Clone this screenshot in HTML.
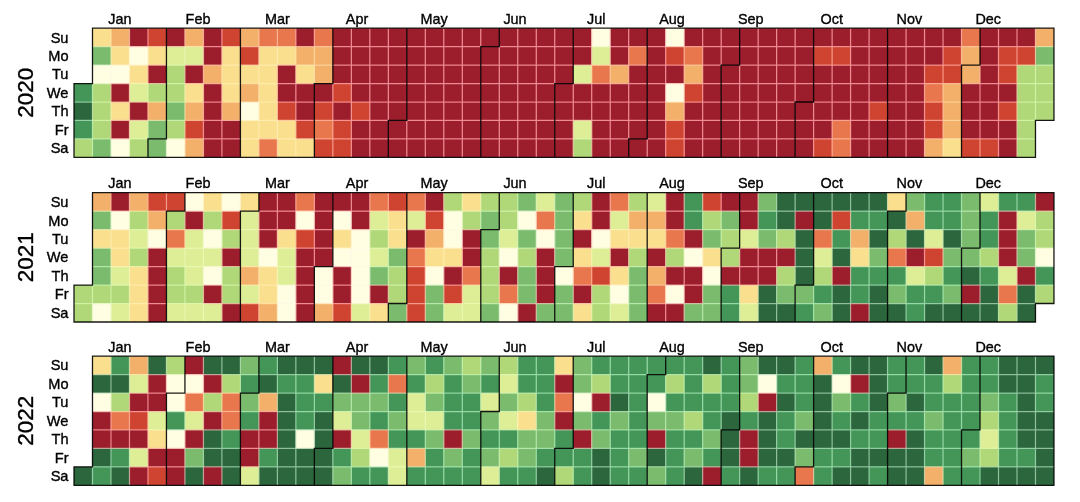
<!DOCTYPE html><html><head><meta charset="utf-8"><title>calendar heatmap</title><style>
html,body{margin:0;padding:0;background:#fff;}body{width:1080px;height:502px;overflow:hidden;}
svg{display:block;will-change:transform;}text{font-family:"Liberation Sans",sans-serif;fill:#000;stroke:#000;stroke-width:0.35px;}
.m{font-size:14.4px;text-anchor:middle;}.d{font-size:14.6px;text-anchor:end;}.y{font-size:22.5px;text-anchor:middle;}
</style></head><body>
<svg width="1080" height="502" viewBox="0 0 1080 502">
<rect width="1080" height="502" fill="#fff"/>
<g>
<rect x="74" y="83.55" width="18.49" height="18.45" fill="#449658"/>
<rect x="74" y="102" width="18.49" height="18.45" fill="#2b663c"/>
<rect x="74" y="120.45" width="18.49" height="18.45" fill="#449658"/>
<rect x="74" y="138.9" width="18.49" height="18.45" fill="#b0d878"/>
<rect x="92.49" y="28.2" width="18.49" height="18.45" fill="#fadf8f"/>
<rect x="92.49" y="46.65" width="18.49" height="18.45" fill="#7bbb6d"/>
<rect x="92.49" y="65.1" width="18.49" height="18.45" fill="#fffde2"/>
<rect x="92.49" y="83.55" width="18.49" height="18.45" fill="#b0d878"/>
<rect x="92.49" y="102" width="18.49" height="18.45" fill="#b0d878"/>
<rect x="92.49" y="120.45" width="18.49" height="18.45" fill="#b0d878"/>
<rect x="92.49" y="138.9" width="18.49" height="18.45" fill="#7bbb6d"/>
<rect x="110.98" y="28.2" width="18.49" height="18.45" fill="#f2b06a"/>
<rect x="110.98" y="46.65" width="18.49" height="18.45" fill="#fadf8f"/>
<rect x="110.98" y="65.1" width="18.49" height="18.45" fill="#fffde2"/>
<rect x="110.98" y="83.55" width="18.49" height="18.45" fill="#9c1e2c"/>
<rect x="110.98" y="102" width="18.49" height="18.45" fill="#fadf8f"/>
<rect x="110.98" y="120.45" width="18.49" height="18.45" fill="#9c1e2c"/>
<rect x="110.98" y="138.9" width="18.49" height="18.45" fill="#fffde2"/>
<rect x="129.47" y="28.2" width="18.49" height="18.45" fill="#9c1e2c"/>
<rect x="129.47" y="46.65" width="18.49" height="18.45" fill="#fffde2"/>
<rect x="129.47" y="65.1" width="18.49" height="18.45" fill="#fadf8f"/>
<rect x="129.47" y="83.55" width="18.49" height="18.45" fill="#ddee97"/>
<rect x="129.47" y="102" width="18.49" height="18.45" fill="#9c1e2c"/>
<rect x="129.47" y="120.45" width="18.49" height="18.45" fill="#ddee97"/>
<rect x="129.47" y="138.9" width="18.49" height="18.45" fill="#b0d878"/>
<rect x="147.96" y="28.2" width="18.49" height="18.45" fill="#cf4431"/>
<rect x="147.96" y="46.65" width="18.49" height="18.45" fill="#fadf8f"/>
<rect x="147.96" y="65.1" width="18.49" height="18.45" fill="#9c1e2c"/>
<rect x="147.96" y="83.55" width="18.49" height="18.45" fill="#b0d878"/>
<rect x="147.96" y="102" width="18.49" height="18.45" fill="#f2b06a"/>
<rect x="147.96" y="120.45" width="18.49" height="18.45" fill="#7bbb6d"/>
<rect x="147.96" y="138.9" width="18.49" height="18.45" fill="#7bbb6d"/>
<rect x="166.45" y="28.2" width="18.49" height="18.45" fill="#9c1e2c"/>
<rect x="166.45" y="46.65" width="18.49" height="18.45" fill="#ddee97"/>
<rect x="166.45" y="65.1" width="18.49" height="18.45" fill="#b0d878"/>
<rect x="166.45" y="83.55" width="18.49" height="18.45" fill="#b0d878"/>
<rect x="166.45" y="102" width="18.49" height="18.45" fill="#7bbb6d"/>
<rect x="166.45" y="120.45" width="18.49" height="18.45" fill="#b0d878"/>
<rect x="166.45" y="138.9" width="18.49" height="18.45" fill="#fffde2"/>
<rect x="184.94" y="28.2" width="18.49" height="18.45" fill="#f2b06a"/>
<rect x="184.94" y="46.65" width="18.49" height="18.45" fill="#ddee97"/>
<rect x="184.94" y="65.1" width="18.49" height="18.45" fill="#9c1e2c"/>
<rect x="184.94" y="83.55" width="18.49" height="18.45" fill="#fadf8f"/>
<rect x="184.94" y="102" width="18.49" height="18.45" fill="#f2b06a"/>
<rect x="184.94" y="120.45" width="18.49" height="18.45" fill="#cf4431"/>
<rect x="184.94" y="138.9" width="18.49" height="18.45" fill="#f2b06a"/>
<rect x="203.43" y="28.2" width="18.49" height="18.45" fill="#9c1e2c"/>
<rect x="203.43" y="46.65" width="18.49" height="18.45" fill="#9c1e2c"/>
<rect x="203.43" y="65.1" width="18.49" height="18.45" fill="#f2b06a"/>
<rect x="203.43" y="83.55" width="18.49" height="18.45" fill="#9c1e2c"/>
<rect x="203.43" y="102" width="18.49" height="18.45" fill="#9c1e2c"/>
<rect x="203.43" y="120.45" width="18.49" height="18.45" fill="#9c1e2c"/>
<rect x="203.43" y="138.9" width="18.49" height="18.45" fill="#9c1e2c"/>
<rect x="221.92" y="28.2" width="18.49" height="18.45" fill="#cf4431"/>
<rect x="221.92" y="46.65" width="18.49" height="18.45" fill="#fadf8f"/>
<rect x="221.92" y="65.1" width="18.49" height="18.45" fill="#fadf8f"/>
<rect x="221.92" y="83.55" width="18.49" height="18.45" fill="#fadf8f"/>
<rect x="221.92" y="102" width="18.49" height="18.45" fill="#f2b06a"/>
<rect x="221.92" y="120.45" width="18.49" height="18.45" fill="#9c1e2c"/>
<rect x="221.92" y="138.9" width="18.49" height="18.45" fill="#9c1e2c"/>
<rect x="240.41" y="28.2" width="18.49" height="18.45" fill="#f2b06a"/>
<rect x="240.41" y="46.65" width="18.49" height="18.45" fill="#cf4431"/>
<rect x="240.41" y="65.1" width="18.49" height="18.45" fill="#fadf8f"/>
<rect x="240.41" y="83.55" width="18.49" height="18.45" fill="#f2b06a"/>
<rect x="240.41" y="102" width="18.49" height="18.45" fill="#fffde2"/>
<rect x="240.41" y="120.45" width="18.49" height="18.45" fill="#fadf8f"/>
<rect x="240.41" y="138.9" width="18.49" height="18.45" fill="#fadf8f"/>
<rect x="258.9" y="28.2" width="18.49" height="18.45" fill="#e9774d"/>
<rect x="258.9" y="46.65" width="18.49" height="18.45" fill="#fadf8f"/>
<rect x="258.9" y="65.1" width="18.49" height="18.45" fill="#fadf8f"/>
<rect x="258.9" y="83.55" width="18.49" height="18.45" fill="#fadf8f"/>
<rect x="258.9" y="102" width="18.49" height="18.45" fill="#fadf8f"/>
<rect x="258.9" y="120.45" width="18.49" height="18.45" fill="#fadf8f"/>
<rect x="258.9" y="138.9" width="18.49" height="18.45" fill="#e9774d"/>
<rect x="277.39" y="28.2" width="18.49" height="18.45" fill="#e9774d"/>
<rect x="277.39" y="46.65" width="18.49" height="18.45" fill="#fadf8f"/>
<rect x="277.39" y="65.1" width="18.49" height="18.45" fill="#9c1e2c"/>
<rect x="277.39" y="83.55" width="18.49" height="18.45" fill="#9c1e2c"/>
<rect x="277.39" y="102" width="18.49" height="18.45" fill="#cf4431"/>
<rect x="277.39" y="120.45" width="18.49" height="18.45" fill="#fadf8f"/>
<rect x="277.39" y="138.9" width="18.49" height="18.45" fill="#fadf8f"/>
<rect x="295.88" y="28.2" width="18.49" height="18.45" fill="#9c1e2c"/>
<rect x="295.88" y="46.65" width="18.49" height="18.45" fill="#f2b06a"/>
<rect x="295.88" y="65.1" width="18.49" height="18.45" fill="#fadf8f"/>
<rect x="295.88" y="83.55" width="18.49" height="18.45" fill="#9c1e2c"/>
<rect x="295.88" y="102" width="18.49" height="18.45" fill="#9c1e2c"/>
<rect x="295.88" y="120.45" width="18.49" height="18.45" fill="#cf4431"/>
<rect x="295.88" y="138.9" width="18.49" height="18.45" fill="#fadf8f"/>
<rect x="314.37" y="28.2" width="18.49" height="18.45" fill="#e9774d"/>
<rect x="314.37" y="46.65" width="18.49" height="18.45" fill="#f2b06a"/>
<rect x="314.37" y="65.1" width="18.49" height="18.45" fill="#f2b06a"/>
<rect x="314.37" y="83.55" width="18.49" height="18.45" fill="#9c1e2c"/>
<rect x="314.37" y="102" width="18.49" height="18.45" fill="#cf4431"/>
<rect x="314.37" y="120.45" width="18.49" height="18.45" fill="#e9774d"/>
<rect x="314.37" y="138.9" width="18.49" height="18.45" fill="#cf4431"/>
<rect x="332.86" y="28.2" width="18.49" height="18.45" fill="#9c1e2c"/>
<rect x="332.86" y="46.65" width="18.49" height="18.45" fill="#9c1e2c"/>
<rect x="332.86" y="65.1" width="18.49" height="18.45" fill="#9c1e2c"/>
<rect x="332.86" y="83.55" width="18.49" height="18.45" fill="#cf4431"/>
<rect x="332.86" y="102" width="18.49" height="18.45" fill="#9c1e2c"/>
<rect x="332.86" y="120.45" width="18.49" height="18.45" fill="#cf4431"/>
<rect x="332.86" y="138.9" width="18.49" height="18.45" fill="#cf4431"/>
<rect x="351.35" y="28.2" width="18.49" height="18.45" fill="#9c1e2c"/>
<rect x="351.35" y="46.65" width="18.49" height="18.45" fill="#9c1e2c"/>
<rect x="351.35" y="65.1" width="18.49" height="18.45" fill="#9c1e2c"/>
<rect x="351.35" y="83.55" width="18.49" height="18.45" fill="#9c1e2c"/>
<rect x="351.35" y="102" width="18.49" height="18.45" fill="#cf4431"/>
<rect x="351.35" y="120.45" width="18.49" height="18.45" fill="#9c1e2c"/>
<rect x="351.35" y="138.9" width="18.49" height="18.45" fill="#9c1e2c"/>
<rect x="369.84" y="28.2" width="18.49" height="18.45" fill="#9c1e2c"/>
<rect x="369.84" y="46.65" width="18.49" height="18.45" fill="#9c1e2c"/>
<rect x="369.84" y="65.1" width="18.49" height="18.45" fill="#9c1e2c"/>
<rect x="369.84" y="83.55" width="18.49" height="18.45" fill="#9c1e2c"/>
<rect x="369.84" y="102" width="18.49" height="18.45" fill="#9c1e2c"/>
<rect x="369.84" y="120.45" width="18.49" height="18.45" fill="#9c1e2c"/>
<rect x="369.84" y="138.9" width="18.49" height="18.45" fill="#9c1e2c"/>
<rect x="388.33" y="28.2" width="18.49" height="18.45" fill="#9c1e2c"/>
<rect x="388.33" y="46.65" width="18.49" height="18.45" fill="#9c1e2c"/>
<rect x="388.33" y="65.1" width="18.49" height="18.45" fill="#9c1e2c"/>
<rect x="388.33" y="83.55" width="18.49" height="18.45" fill="#9c1e2c"/>
<rect x="388.33" y="102" width="18.49" height="18.45" fill="#9c1e2c"/>
<rect x="388.33" y="120.45" width="18.49" height="18.45" fill="#9c1e2c"/>
<rect x="388.33" y="138.9" width="18.49" height="18.45" fill="#9c1e2c"/>
<rect x="406.82" y="28.2" width="18.49" height="18.45" fill="#9c1e2c"/>
<rect x="406.82" y="46.65" width="18.49" height="18.45" fill="#9c1e2c"/>
<rect x="406.82" y="65.1" width="18.49" height="18.45" fill="#9c1e2c"/>
<rect x="406.82" y="83.55" width="18.49" height="18.45" fill="#9c1e2c"/>
<rect x="406.82" y="102" width="18.49" height="18.45" fill="#9c1e2c"/>
<rect x="406.82" y="120.45" width="18.49" height="18.45" fill="#9c1e2c"/>
<rect x="406.82" y="138.9" width="18.49" height="18.45" fill="#9c1e2c"/>
<rect x="425.31" y="28.2" width="18.49" height="18.45" fill="#9c1e2c"/>
<rect x="425.31" y="46.65" width="18.49" height="18.45" fill="#9c1e2c"/>
<rect x="425.31" y="65.1" width="18.49" height="18.45" fill="#9c1e2c"/>
<rect x="425.31" y="83.55" width="18.49" height="18.45" fill="#9c1e2c"/>
<rect x="425.31" y="102" width="18.49" height="18.45" fill="#9c1e2c"/>
<rect x="425.31" y="120.45" width="18.49" height="18.45" fill="#9c1e2c"/>
<rect x="425.31" y="138.9" width="18.49" height="18.45" fill="#9c1e2c"/>
<rect x="443.8" y="28.2" width="18.49" height="18.45" fill="#9c1e2c"/>
<rect x="443.8" y="46.65" width="18.49" height="18.45" fill="#9c1e2c"/>
<rect x="443.8" y="65.1" width="18.49" height="18.45" fill="#9c1e2c"/>
<rect x="443.8" y="83.55" width="18.49" height="18.45" fill="#9c1e2c"/>
<rect x="443.8" y="102" width="18.49" height="18.45" fill="#9c1e2c"/>
<rect x="443.8" y="120.45" width="18.49" height="18.45" fill="#9c1e2c"/>
<rect x="443.8" y="138.9" width="18.49" height="18.45" fill="#9c1e2c"/>
<rect x="462.29" y="28.2" width="18.49" height="18.45" fill="#9c1e2c"/>
<rect x="462.29" y="46.65" width="18.49" height="18.45" fill="#9c1e2c"/>
<rect x="462.29" y="65.1" width="18.49" height="18.45" fill="#9c1e2c"/>
<rect x="462.29" y="83.55" width="18.49" height="18.45" fill="#9c1e2c"/>
<rect x="462.29" y="102" width="18.49" height="18.45" fill="#9c1e2c"/>
<rect x="462.29" y="120.45" width="18.49" height="18.45" fill="#9c1e2c"/>
<rect x="462.29" y="138.9" width="18.49" height="18.45" fill="#9c1e2c"/>
<rect x="480.78" y="28.2" width="18.49" height="18.45" fill="#9c1e2c"/>
<rect x="480.78" y="46.65" width="18.49" height="18.45" fill="#9c1e2c"/>
<rect x="480.78" y="65.1" width="18.49" height="18.45" fill="#9c1e2c"/>
<rect x="480.78" y="83.55" width="18.49" height="18.45" fill="#9c1e2c"/>
<rect x="480.78" y="102" width="18.49" height="18.45" fill="#9c1e2c"/>
<rect x="480.78" y="120.45" width="18.49" height="18.45" fill="#9c1e2c"/>
<rect x="480.78" y="138.9" width="18.49" height="18.45" fill="#9c1e2c"/>
<rect x="499.27" y="28.2" width="18.49" height="18.45" fill="#9c1e2c"/>
<rect x="499.27" y="46.65" width="18.49" height="18.45" fill="#9c1e2c"/>
<rect x="499.27" y="65.1" width="18.49" height="18.45" fill="#9c1e2c"/>
<rect x="499.27" y="83.55" width="18.49" height="18.45" fill="#9c1e2c"/>
<rect x="499.27" y="102" width="18.49" height="18.45" fill="#9c1e2c"/>
<rect x="499.27" y="120.45" width="18.49" height="18.45" fill="#9c1e2c"/>
<rect x="499.27" y="138.9" width="18.49" height="18.45" fill="#9c1e2c"/>
<rect x="517.76" y="28.2" width="18.49" height="18.45" fill="#9c1e2c"/>
<rect x="517.76" y="46.65" width="18.49" height="18.45" fill="#9c1e2c"/>
<rect x="517.76" y="65.1" width="18.49" height="18.45" fill="#9c1e2c"/>
<rect x="517.76" y="83.55" width="18.49" height="18.45" fill="#9c1e2c"/>
<rect x="517.76" y="102" width="18.49" height="18.45" fill="#9c1e2c"/>
<rect x="517.76" y="120.45" width="18.49" height="18.45" fill="#9c1e2c"/>
<rect x="517.76" y="138.9" width="18.49" height="18.45" fill="#9c1e2c"/>
<rect x="536.25" y="28.2" width="18.49" height="18.45" fill="#9c1e2c"/>
<rect x="536.25" y="46.65" width="18.49" height="18.45" fill="#9c1e2c"/>
<rect x="536.25" y="65.1" width="18.49" height="18.45" fill="#9c1e2c"/>
<rect x="536.25" y="83.55" width="18.49" height="18.45" fill="#9c1e2c"/>
<rect x="536.25" y="102" width="18.49" height="18.45" fill="#9c1e2c"/>
<rect x="536.25" y="120.45" width="18.49" height="18.45" fill="#9c1e2c"/>
<rect x="536.25" y="138.9" width="18.49" height="18.45" fill="#9c1e2c"/>
<rect x="554.74" y="28.2" width="18.49" height="18.45" fill="#9c1e2c"/>
<rect x="554.74" y="46.65" width="18.49" height="18.45" fill="#9c1e2c"/>
<rect x="554.74" y="65.1" width="18.49" height="18.45" fill="#9c1e2c"/>
<rect x="554.74" y="83.55" width="18.49" height="18.45" fill="#9c1e2c"/>
<rect x="554.74" y="102" width="18.49" height="18.45" fill="#9c1e2c"/>
<rect x="554.74" y="120.45" width="18.49" height="18.45" fill="#9c1e2c"/>
<rect x="554.74" y="138.9" width="18.49" height="18.45" fill="#9c1e2c"/>
<rect x="573.23" y="28.2" width="18.49" height="18.45" fill="#9c1e2c"/>
<rect x="573.23" y="46.65" width="18.49" height="18.45" fill="#9c1e2c"/>
<rect x="573.23" y="65.1" width="18.49" height="18.45" fill="#ddee97"/>
<rect x="573.23" y="83.55" width="18.49" height="18.45" fill="#9c1e2c"/>
<rect x="573.23" y="102" width="18.49" height="18.45" fill="#9c1e2c"/>
<rect x="573.23" y="120.45" width="18.49" height="18.45" fill="#ddee97"/>
<rect x="573.23" y="138.9" width="18.49" height="18.45" fill="#b0d878"/>
<rect x="591.72" y="28.2" width="18.49" height="18.45" fill="#fffde2"/>
<rect x="591.72" y="46.65" width="18.49" height="18.45" fill="#ddee97"/>
<rect x="591.72" y="65.1" width="18.49" height="18.45" fill="#e9774d"/>
<rect x="591.72" y="83.55" width="18.49" height="18.45" fill="#9c1e2c"/>
<rect x="591.72" y="102" width="18.49" height="18.45" fill="#9c1e2c"/>
<rect x="591.72" y="120.45" width="18.49" height="18.45" fill="#9c1e2c"/>
<rect x="591.72" y="138.9" width="18.49" height="18.45" fill="#9c1e2c"/>
<rect x="610.21" y="28.2" width="18.49" height="18.45" fill="#9c1e2c"/>
<rect x="610.21" y="46.65" width="18.49" height="18.45" fill="#9c1e2c"/>
<rect x="610.21" y="65.1" width="18.49" height="18.45" fill="#f2b06a"/>
<rect x="610.21" y="83.55" width="18.49" height="18.45" fill="#9c1e2c"/>
<rect x="610.21" y="102" width="18.49" height="18.45" fill="#9c1e2c"/>
<rect x="610.21" y="120.45" width="18.49" height="18.45" fill="#9c1e2c"/>
<rect x="610.21" y="138.9" width="18.49" height="18.45" fill="#9c1e2c"/>
<rect x="628.7" y="28.2" width="18.49" height="18.45" fill="#9c1e2c"/>
<rect x="628.7" y="46.65" width="18.49" height="18.45" fill="#e9774d"/>
<rect x="628.7" y="65.1" width="18.49" height="18.45" fill="#9c1e2c"/>
<rect x="628.7" y="83.55" width="18.49" height="18.45" fill="#9c1e2c"/>
<rect x="628.7" y="102" width="18.49" height="18.45" fill="#9c1e2c"/>
<rect x="628.7" y="120.45" width="18.49" height="18.45" fill="#9c1e2c"/>
<rect x="628.7" y="138.9" width="18.49" height="18.45" fill="#9c1e2c"/>
<rect x="647.19" y="28.2" width="18.49" height="18.45" fill="#9c1e2c"/>
<rect x="647.19" y="46.65" width="18.49" height="18.45" fill="#9c1e2c"/>
<rect x="647.19" y="65.1" width="18.49" height="18.45" fill="#9c1e2c"/>
<rect x="647.19" y="83.55" width="18.49" height="18.45" fill="#9c1e2c"/>
<rect x="647.19" y="102" width="18.49" height="18.45" fill="#9c1e2c"/>
<rect x="647.19" y="120.45" width="18.49" height="18.45" fill="#9c1e2c"/>
<rect x="647.19" y="138.9" width="18.49" height="18.45" fill="#9c1e2c"/>
<rect x="665.68" y="28.2" width="18.49" height="18.45" fill="#fffde2"/>
<rect x="665.68" y="46.65" width="18.49" height="18.45" fill="#cf4431"/>
<rect x="665.68" y="65.1" width="18.49" height="18.45" fill="#9c1e2c"/>
<rect x="665.68" y="83.55" width="18.49" height="18.45" fill="#fffde2"/>
<rect x="665.68" y="102" width="18.49" height="18.45" fill="#f2b06a"/>
<rect x="665.68" y="120.45" width="18.49" height="18.45" fill="#cf4431"/>
<rect x="665.68" y="138.9" width="18.49" height="18.45" fill="#cf4431"/>
<rect x="684.17" y="28.2" width="18.49" height="18.45" fill="#9c1e2c"/>
<rect x="684.17" y="46.65" width="18.49" height="18.45" fill="#e9774d"/>
<rect x="684.17" y="65.1" width="18.49" height="18.45" fill="#f2b06a"/>
<rect x="684.17" y="83.55" width="18.49" height="18.45" fill="#cf4431"/>
<rect x="684.17" y="102" width="18.49" height="18.45" fill="#9c1e2c"/>
<rect x="684.17" y="120.45" width="18.49" height="18.45" fill="#9c1e2c"/>
<rect x="684.17" y="138.9" width="18.49" height="18.45" fill="#9c1e2c"/>
<rect x="702.66" y="28.2" width="18.49" height="18.45" fill="#9c1e2c"/>
<rect x="702.66" y="46.65" width="18.49" height="18.45" fill="#9c1e2c"/>
<rect x="702.66" y="65.1" width="18.49" height="18.45" fill="#9c1e2c"/>
<rect x="702.66" y="83.55" width="18.49" height="18.45" fill="#9c1e2c"/>
<rect x="702.66" y="102" width="18.49" height="18.45" fill="#9c1e2c"/>
<rect x="702.66" y="120.45" width="18.49" height="18.45" fill="#9c1e2c"/>
<rect x="702.66" y="138.9" width="18.49" height="18.45" fill="#9c1e2c"/>
<rect x="721.15" y="28.2" width="18.49" height="18.45" fill="#9c1e2c"/>
<rect x="721.15" y="46.65" width="18.49" height="18.45" fill="#9c1e2c"/>
<rect x="721.15" y="65.1" width="18.49" height="18.45" fill="#9c1e2c"/>
<rect x="721.15" y="83.55" width="18.49" height="18.45" fill="#9c1e2c"/>
<rect x="721.15" y="102" width="18.49" height="18.45" fill="#9c1e2c"/>
<rect x="721.15" y="120.45" width="18.49" height="18.45" fill="#9c1e2c"/>
<rect x="721.15" y="138.9" width="18.49" height="18.45" fill="#9c1e2c"/>
<rect x="739.64" y="28.2" width="18.49" height="18.45" fill="#9c1e2c"/>
<rect x="739.64" y="46.65" width="18.49" height="18.45" fill="#9c1e2c"/>
<rect x="739.64" y="65.1" width="18.49" height="18.45" fill="#9c1e2c"/>
<rect x="739.64" y="83.55" width="18.49" height="18.45" fill="#9c1e2c"/>
<rect x="739.64" y="102" width="18.49" height="18.45" fill="#9c1e2c"/>
<rect x="739.64" y="120.45" width="18.49" height="18.45" fill="#9c1e2c"/>
<rect x="739.64" y="138.9" width="18.49" height="18.45" fill="#9c1e2c"/>
<rect x="758.13" y="28.2" width="18.49" height="18.45" fill="#9c1e2c"/>
<rect x="758.13" y="46.65" width="18.49" height="18.45" fill="#9c1e2c"/>
<rect x="758.13" y="65.1" width="18.49" height="18.45" fill="#9c1e2c"/>
<rect x="758.13" y="83.55" width="18.49" height="18.45" fill="#9c1e2c"/>
<rect x="758.13" y="102" width="18.49" height="18.45" fill="#9c1e2c"/>
<rect x="758.13" y="120.45" width="18.49" height="18.45" fill="#9c1e2c"/>
<rect x="758.13" y="138.9" width="18.49" height="18.45" fill="#9c1e2c"/>
<rect x="776.62" y="28.2" width="18.49" height="18.45" fill="#9c1e2c"/>
<rect x="776.62" y="46.65" width="18.49" height="18.45" fill="#9c1e2c"/>
<rect x="776.62" y="65.1" width="18.49" height="18.45" fill="#9c1e2c"/>
<rect x="776.62" y="83.55" width="18.49" height="18.45" fill="#9c1e2c"/>
<rect x="776.62" y="102" width="18.49" height="18.45" fill="#9c1e2c"/>
<rect x="776.62" y="120.45" width="18.49" height="18.45" fill="#9c1e2c"/>
<rect x="776.62" y="138.9" width="18.49" height="18.45" fill="#9c1e2c"/>
<rect x="795.11" y="28.2" width="18.49" height="18.45" fill="#9c1e2c"/>
<rect x="795.11" y="46.65" width="18.49" height="18.45" fill="#9c1e2c"/>
<rect x="795.11" y="65.1" width="18.49" height="18.45" fill="#9c1e2c"/>
<rect x="795.11" y="83.55" width="18.49" height="18.45" fill="#9c1e2c"/>
<rect x="795.11" y="102" width="18.49" height="18.45" fill="#9c1e2c"/>
<rect x="795.11" y="120.45" width="18.49" height="18.45" fill="#9c1e2c"/>
<rect x="795.11" y="138.9" width="18.49" height="18.45" fill="#9c1e2c"/>
<rect x="813.6" y="28.2" width="18.49" height="18.45" fill="#9c1e2c"/>
<rect x="813.6" y="46.65" width="18.49" height="18.45" fill="#cf4431"/>
<rect x="813.6" y="65.1" width="18.49" height="18.45" fill="#9c1e2c"/>
<rect x="813.6" y="83.55" width="18.49" height="18.45" fill="#9c1e2c"/>
<rect x="813.6" y="102" width="18.49" height="18.45" fill="#9c1e2c"/>
<rect x="813.6" y="120.45" width="18.49" height="18.45" fill="#9c1e2c"/>
<rect x="813.6" y="138.9" width="18.49" height="18.45" fill="#cf4431"/>
<rect x="832.09" y="28.2" width="18.49" height="18.45" fill="#9c1e2c"/>
<rect x="832.09" y="46.65" width="18.49" height="18.45" fill="#cf4431"/>
<rect x="832.09" y="65.1" width="18.49" height="18.45" fill="#9c1e2c"/>
<rect x="832.09" y="83.55" width="18.49" height="18.45" fill="#9c1e2c"/>
<rect x="832.09" y="102" width="18.49" height="18.45" fill="#9c1e2c"/>
<rect x="832.09" y="120.45" width="18.49" height="18.45" fill="#e9774d"/>
<rect x="832.09" y="138.9" width="18.49" height="18.45" fill="#e9774d"/>
<rect x="850.58" y="28.2" width="18.49" height="18.45" fill="#9c1e2c"/>
<rect x="850.58" y="46.65" width="18.49" height="18.45" fill="#9c1e2c"/>
<rect x="850.58" y="65.1" width="18.49" height="18.45" fill="#9c1e2c"/>
<rect x="850.58" y="83.55" width="18.49" height="18.45" fill="#9c1e2c"/>
<rect x="850.58" y="102" width="18.49" height="18.45" fill="#9c1e2c"/>
<rect x="850.58" y="120.45" width="18.49" height="18.45" fill="#9c1e2c"/>
<rect x="850.58" y="138.9" width="18.49" height="18.45" fill="#9c1e2c"/>
<rect x="869.07" y="28.2" width="18.49" height="18.45" fill="#9c1e2c"/>
<rect x="869.07" y="46.65" width="18.49" height="18.45" fill="#9c1e2c"/>
<rect x="869.07" y="65.1" width="18.49" height="18.45" fill="#9c1e2c"/>
<rect x="869.07" y="83.55" width="18.49" height="18.45" fill="#9c1e2c"/>
<rect x="869.07" y="102" width="18.49" height="18.45" fill="#cf4431"/>
<rect x="869.07" y="120.45" width="18.49" height="18.45" fill="#9c1e2c"/>
<rect x="869.07" y="138.9" width="18.49" height="18.45" fill="#9c1e2c"/>
<rect x="887.56" y="28.2" width="18.49" height="18.45" fill="#9c1e2c"/>
<rect x="887.56" y="46.65" width="18.49" height="18.45" fill="#9c1e2c"/>
<rect x="887.56" y="65.1" width="18.49" height="18.45" fill="#9c1e2c"/>
<rect x="887.56" y="83.55" width="18.49" height="18.45" fill="#9c1e2c"/>
<rect x="887.56" y="102" width="18.49" height="18.45" fill="#9c1e2c"/>
<rect x="887.56" y="120.45" width="18.49" height="18.45" fill="#9c1e2c"/>
<rect x="887.56" y="138.9" width="18.49" height="18.45" fill="#9c1e2c"/>
<rect x="906.05" y="28.2" width="18.49" height="18.45" fill="#9c1e2c"/>
<rect x="906.05" y="46.65" width="18.49" height="18.45" fill="#9c1e2c"/>
<rect x="906.05" y="65.1" width="18.49" height="18.45" fill="#9c1e2c"/>
<rect x="906.05" y="83.55" width="18.49" height="18.45" fill="#9c1e2c"/>
<rect x="906.05" y="102" width="18.49" height="18.45" fill="#9c1e2c"/>
<rect x="906.05" y="120.45" width="18.49" height="18.45" fill="#9c1e2c"/>
<rect x="906.05" y="138.9" width="18.49" height="18.45" fill="#9c1e2c"/>
<rect x="924.54" y="28.2" width="18.49" height="18.45" fill="#9c1e2c"/>
<rect x="924.54" y="46.65" width="18.49" height="18.45" fill="#9c1e2c"/>
<rect x="924.54" y="65.1" width="18.49" height="18.45" fill="#cf4431"/>
<rect x="924.54" y="83.55" width="18.49" height="18.45" fill="#e9774d"/>
<rect x="924.54" y="102" width="18.49" height="18.45" fill="#cf4431"/>
<rect x="924.54" y="120.45" width="18.49" height="18.45" fill="#cf4431"/>
<rect x="924.54" y="138.9" width="18.49" height="18.45" fill="#f2b06a"/>
<rect x="943.03" y="28.2" width="18.49" height="18.45" fill="#9c1e2c"/>
<rect x="943.03" y="46.65" width="18.49" height="18.45" fill="#cf4431"/>
<rect x="943.03" y="65.1" width="18.49" height="18.45" fill="#cf4431"/>
<rect x="943.03" y="83.55" width="18.49" height="18.45" fill="#f2b06a"/>
<rect x="943.03" y="102" width="18.49" height="18.45" fill="#f2b06a"/>
<rect x="943.03" y="120.45" width="18.49" height="18.45" fill="#f2b06a"/>
<rect x="943.03" y="138.9" width="18.49" height="18.45" fill="#fadf8f"/>
<rect x="961.52" y="28.2" width="18.49" height="18.45" fill="#e9774d"/>
<rect x="961.52" y="46.65" width="18.49" height="18.45" fill="#f2b06a"/>
<rect x="961.52" y="65.1" width="18.49" height="18.45" fill="#f2b06a"/>
<rect x="961.52" y="83.55" width="18.49" height="18.45" fill="#9c1e2c"/>
<rect x="961.52" y="102" width="18.49" height="18.45" fill="#9c1e2c"/>
<rect x="961.52" y="120.45" width="18.49" height="18.45" fill="#9c1e2c"/>
<rect x="961.52" y="138.9" width="18.49" height="18.45" fill="#cf4431"/>
<rect x="980.01" y="28.2" width="18.49" height="18.45" fill="#9c1e2c"/>
<rect x="980.01" y="46.65" width="18.49" height="18.45" fill="#9c1e2c"/>
<rect x="980.01" y="65.1" width="18.49" height="18.45" fill="#9c1e2c"/>
<rect x="980.01" y="83.55" width="18.49" height="18.45" fill="#9c1e2c"/>
<rect x="980.01" y="102" width="18.49" height="18.45" fill="#9c1e2c"/>
<rect x="980.01" y="120.45" width="18.49" height="18.45" fill="#9c1e2c"/>
<rect x="980.01" y="138.9" width="18.49" height="18.45" fill="#cf4431"/>
<rect x="998.5" y="28.2" width="18.49" height="18.45" fill="#9c1e2c"/>
<rect x="998.5" y="46.65" width="18.49" height="18.45" fill="#cf4431"/>
<rect x="998.5" y="65.1" width="18.49" height="18.45" fill="#cf4431"/>
<rect x="998.5" y="83.55" width="18.49" height="18.45" fill="#9c1e2c"/>
<rect x="998.5" y="102" width="18.49" height="18.45" fill="#cf4431"/>
<rect x="998.5" y="120.45" width="18.49" height="18.45" fill="#9c1e2c"/>
<rect x="998.5" y="138.9" width="18.49" height="18.45" fill="#9c1e2c"/>
<rect x="1016.99" y="28.2" width="18.49" height="18.45" fill="#9c1e2c"/>
<rect x="1016.99" y="46.65" width="18.49" height="18.45" fill="#cf4431"/>
<rect x="1016.99" y="65.1" width="18.49" height="18.45" fill="#b0d878"/>
<rect x="1016.99" y="83.55" width="18.49" height="18.45" fill="#b0d878"/>
<rect x="1016.99" y="102" width="18.49" height="18.45" fill="#b0d878"/>
<rect x="1016.99" y="120.45" width="18.49" height="18.45" fill="#b0d878"/>
<rect x="1016.99" y="138.9" width="18.49" height="18.45" fill="#b0d878"/>
<rect x="1035.48" y="28.2" width="18.49" height="18.45" fill="#f2b06a"/>
<rect x="1035.48" y="46.65" width="18.49" height="18.45" fill="#7bbb6d"/>
<rect x="1035.48" y="65.1" width="18.49" height="18.45" fill="#b0d878"/>
<rect x="1035.48" y="83.55" width="18.49" height="18.45" fill="#b0d878"/>
<rect x="1035.48" y="102" width="18.49" height="18.45" fill="#b0d878"/>
<g fill="none" stroke-width="1.25" stroke-opacity="0.8">
<path d="M92.49 83.55V102M92.49 120.45V138.9M74 138.9H92.49" stroke="#baecac"/>
<path d="M74 102H92.49M74 120.45H92.49" stroke="#9fd8ae"/>
<path d="M92.49 102V120.45" stroke="#b9e1a9"/>
<path d="M92.49 138.9V157.35M92.49 138.9H110.98M166.45 102H184.94M166.45 120.45H184.94M1035.48 65.1H1053.97" stroke="#c7f2ab"/>
<path d="M110.98 28.2V46.65M110.98 46.65H129.47M184.94 102H203.43M221.92 65.1V83.55M221.92 102H240.41M240.41 83.55H258.9M258.9 83.55V102M295.88 46.65V65.1M295.88 65.1H314.37M314.37 65.1V83.55M943.03 138.9V157.35M943.03 138.9H961.52" stroke="#ffe3a6"/>
<path d="M92.49 46.65H110.98M110.98 46.65V65.1" stroke="#dfeeae"/>
<path d="M92.49 65.1H110.98M110.98 138.9V157.35M166.45 138.9V157.35" stroke="#daf3c9"/>
<path d="M110.98 65.1V83.55" stroke="#fbf9e3"/>
<path d="M92.49 83.55H110.98M129.47 138.9V157.35M166.45 138.9H184.94" stroke="#e8f7c5"/>
<path d="M110.98 83.55V102M110.98 120.45V138.9M147.96 83.55H166.45M184.94 65.1V83.55M573.23 138.9V157.35M591.72 138.9V157.35M1016.99 83.55V102M1016.99 120.45V138.9M1016.99 138.9V157.35" stroke="#e9c7a5"/>
<path d="M92.49 102H110.98M92.49 120.45H110.98M166.45 83.55H184.94M1035.48 65.1V83.55M1016.99 83.55H1035.48M1035.48 83.55V102M1016.99 102H1035.48M1035.48 102V120.45M1016.99 120.45H1035.48M1016.99 138.9H1035.48M1035.48 83.55H1053.97M1035.48 102H1053.97" stroke="#d5f5a7"/>
<path d="M110.98 102V120.45M184.94 83.55V102" stroke="#ecf2aa"/>
<path d="M129.47 28.2V46.65M147.96 102V120.45M184.94 28.2V46.65M203.43 28.2V46.65M203.43 65.1V83.55M203.43 102V120.45M203.43 138.9V157.35M203.43 65.1H221.92M203.43 83.55H221.92M221.92 102V120.45M221.92 120.45H240.41M295.88 46.65H314.37M610.21 65.1H628.7M628.7 65.1V83.55M610.21 83.55H628.7M665.68 102V120.45M684.17 65.1V83.55M684.17 102V120.45M702.66 65.1V83.55M924.54 138.9V157.35M980.01 65.1V83.55M961.52 83.55H980.01M1035.48 28.2V46.65" stroke="#ffb8a1"/>
<path d="M129.47 46.65V65.1M110.98 65.1H129.47M129.47 65.1V83.55M147.96 46.65V65.1M129.47 65.1H147.96M258.9 102V120.45M240.41 120.45H258.9" stroke="#fff3c8"/>
<path d="M110.98 83.55H129.47M110.98 138.9H129.47M129.47 46.65H147.96M591.72 28.2V46.65M610.21 28.2V46.65M665.68 28.2V46.65M665.68 83.55V102M684.17 28.2V46.65M665.68 83.55H684.17" stroke="#fcc8c3"/>
<path d="M129.47 83.55V102M129.47 120.45V138.9M129.47 102H147.96M129.47 120.45H147.96M166.45 46.65H184.94M203.43 46.65V65.1M184.94 65.1H203.43M573.23 120.45V138.9M591.72 46.65V65.1M573.23 65.1H591.72M573.23 83.55H591.72M573.23 120.45H591.72M591.72 120.45V138.9M610.21 46.65V65.1" stroke="#f5c9ab"/>
<path d="M110.98 102H129.47M129.47 102V120.45M110.98 120.45H129.47M147.96 65.1V83.55M147.96 65.1H166.45M184.94 83.55H203.43M203.43 83.55V102M221.92 46.65V65.1M221.92 83.55V102M277.39 65.1V83.55M277.39 83.55V102M277.39 65.1H295.88M295.88 65.1V83.55M295.88 83.55H314.37" stroke="#ffc3a8"/>
<path d="M147.96 28.2V46.65M203.43 120.45V138.9M221.92 28.2V46.65M277.39 102H295.88M295.88 102V120.45M295.88 120.45H314.37M332.86 83.55V102M314.37 102H332.86M332.86 102V120.45M332.86 83.55H351.35M351.35 83.55V102M332.86 102H351.35M351.35 102V120.45M332.86 120.45H351.35M351.35 120.45V138.9M351.35 138.9V157.35M351.35 102H369.84M369.84 102V120.45M351.35 120.45H369.84M665.68 46.65V65.1M665.68 120.45V138.9M665.68 138.9V157.35M665.68 65.1H684.17M684.17 120.45V138.9M684.17 138.9V157.35M702.66 83.55V102M684.17 102H702.66M813.6 138.9V157.35M813.6 46.65H832.09M813.6 65.1H832.09M813.6 138.9H832.09M832.09 46.65H850.58M850.58 46.65V65.1M832.09 65.1H850.58M869.07 102V120.45M869.07 102H887.56M869.07 120.45H887.56M924.54 65.1V83.55M924.54 102V120.45M924.54 120.45V138.9M943.03 46.65V65.1M924.54 65.1H943.03M943.03 46.65H961.52M961.52 138.9H980.01M998.5 46.65V65.1M998.5 65.1V83.55M998.5 102V120.45M980.01 138.9H998.5M998.5 138.9V157.35M998.5 46.65H1016.99M998.5 83.55H1016.99M998.5 102H1016.99M998.5 120.45H1016.99M1016.99 46.65H1035.48" stroke="#ff9e9c"/>
<path d="M129.47 83.55H147.96" stroke="#f8f4b0"/>
<path d="M147.96 83.55V102M129.47 138.9H147.96M166.45 65.1H184.94M573.23 138.9H591.72" stroke="#e0f7ad"/>
<path d="M147.96 120.45V138.9" stroke="#d3f4b1"/>
<path d="M147.96 46.65H166.45M221.92 46.65H240.41M258.9 46.65V65.1M240.41 65.1H258.9M277.39 102V120.45M277.39 120.45H295.88M295.88 120.45V138.9M295.88 138.9H314.37" stroke="#ffc9a1"/>
<path d="M147.96 102H166.45" stroke="#f1e6a3"/>
<path d="M147.96 120.45H166.45M184.94 102V120.45M1035.48 46.65H1053.97" stroke="#e3e3a6"/>
<path d="M184.94 46.65V65.1" stroke="#ecf9b3"/>
<path d="M184.94 120.45V138.9M1016.99 65.1V83.55M1016.99 102V120.45M1016.99 65.1H1035.48" stroke="#f5cd9e"/>
<path d="M184.94 138.9V157.35M240.41 102H258.9M665.68 102H684.17" stroke="#ffe8c1"/>
<path d="M184.94 46.65H203.43" stroke="#fce8a9"/>
<path d="M184.94 120.45H203.43M184.94 138.9H203.43M240.41 46.65H258.9M665.68 120.45H684.17M684.17 83.55H702.66M943.03 102V120.45M943.03 120.45V138.9M924.54 138.9H943.03M961.52 46.65V65.1M943.03 83.55H961.52" stroke="#ffbe9a"/>
<path d="M203.43 46.65H221.92M203.43 102H221.92M203.43 120.45H221.92M221.92 120.45V138.9M203.43 138.9H221.92M221.92 138.9V157.35M221.92 138.9H240.41M277.39 83.55H295.88M295.88 83.55V102M295.88 102H314.37M351.35 28.2V46.65M332.86 46.65H351.35M351.35 46.65V65.1M332.86 65.1H351.35M351.35 65.1V83.55M369.84 28.2V46.65M351.35 46.65H369.84M369.84 46.65V65.1M351.35 65.1H369.84M369.84 65.1V83.55M351.35 83.55H369.84M369.84 83.55V102M369.84 120.45V138.9M351.35 138.9H369.84M369.84 138.9V157.35M388.33 28.2V46.65M369.84 46.65H388.33M388.33 46.65V65.1M369.84 65.1H388.33M388.33 65.1V83.55M369.84 83.55H388.33M388.33 83.55V102M369.84 102H388.33M388.33 102V120.45M369.84 120.45H388.33M369.84 138.9H388.33M388.33 46.65H406.82M388.33 65.1H406.82M388.33 83.55H406.82M388.33 102H406.82M406.82 120.45V138.9M388.33 138.9H406.82M406.82 138.9V157.35M425.31 28.2V46.65M406.82 46.65H425.31M425.31 46.65V65.1M406.82 65.1H425.31M425.31 65.1V83.55M406.82 83.55H425.31M425.31 83.55V102M406.82 102H425.31M425.31 102V120.45M406.82 120.45H425.31M425.31 120.45V138.9M406.82 138.9H425.31M425.31 138.9V157.35M443.8 28.2V46.65M425.31 46.65H443.8M443.8 46.65V65.1M425.31 65.1H443.8M443.8 65.1V83.55M425.31 83.55H443.8M443.8 83.55V102M425.31 102H443.8M443.8 102V120.45M425.31 120.45H443.8M443.8 120.45V138.9M425.31 138.9H443.8M443.8 138.9V157.35M462.29 28.2V46.65M443.8 46.65H462.29M462.29 46.65V65.1M443.8 65.1H462.29M462.29 65.1V83.55M443.8 83.55H462.29M462.29 83.55V102M443.8 102H462.29M462.29 102V120.45M443.8 120.45H462.29M462.29 120.45V138.9M443.8 138.9H462.29M462.29 138.9V157.35M480.78 28.2V46.65M462.29 46.65H480.78M462.29 65.1H480.78M462.29 83.55H480.78M462.29 102H480.78M462.29 120.45H480.78M462.29 138.9H480.78M499.27 46.65V65.1M480.78 65.1H499.27M499.27 65.1V83.55M480.78 83.55H499.27M499.27 83.55V102M480.78 102H499.27M499.27 102V120.45M480.78 120.45H499.27M499.27 120.45V138.9M480.78 138.9H499.27M499.27 138.9V157.35M517.76 28.2V46.65M499.27 46.65H517.76M517.76 46.65V65.1M499.27 65.1H517.76M517.76 65.1V83.55M499.27 83.55H517.76M517.76 83.55V102M499.27 102H517.76M517.76 102V120.45M499.27 120.45H517.76M517.76 120.45V138.9M499.27 138.9H517.76M517.76 138.9V157.35M536.25 28.2V46.65M517.76 46.65H536.25M536.25 46.65V65.1M517.76 65.1H536.25M536.25 65.1V83.55M517.76 83.55H536.25M536.25 83.55V102M517.76 102H536.25M536.25 102V120.45M517.76 120.45H536.25M536.25 120.45V138.9M517.76 138.9H536.25M536.25 138.9V157.35M554.74 28.2V46.65M536.25 46.65H554.74M554.74 46.65V65.1M536.25 65.1H554.74M554.74 65.1V83.55M536.25 83.55H554.74M536.25 102H554.74M536.25 120.45H554.74M536.25 138.9H554.74M554.74 46.65H573.23M554.74 65.1H573.23M573.23 83.55V102M554.74 102H573.23M573.23 102V120.45M554.74 120.45H573.23M554.74 138.9H573.23M573.23 46.65H591.72M591.72 83.55V102M573.23 102H591.72M591.72 102V120.45M610.21 83.55V102M591.72 102H610.21M610.21 102V120.45M591.72 120.45H610.21M610.21 120.45V138.9M591.72 138.9H610.21M610.21 138.9V157.35M628.7 28.2V46.65M610.21 46.65H628.7M628.7 83.55V102M610.21 102H628.7M628.7 102V120.45M610.21 120.45H628.7M628.7 120.45V138.9M610.21 138.9H628.7M628.7 83.55H647.19M628.7 102H647.19M628.7 120.45H647.19M647.19 138.9V157.35M647.19 46.65H665.68M647.19 65.1H665.68M665.68 65.1V83.55M647.19 83.55H665.68M647.19 102H665.68M647.19 120.45H665.68M647.19 138.9H665.68M702.66 28.2V46.65M702.66 102V120.45M684.17 120.45H702.66M702.66 120.45V138.9M684.17 138.9H702.66M702.66 138.9V157.35M721.15 28.2V46.65M702.66 46.65H721.15M721.15 46.65V65.1M702.66 65.1H721.15M702.66 83.55H721.15M702.66 102H721.15M702.66 120.45H721.15M702.66 138.9H721.15M721.15 46.65H739.64M739.64 65.1V83.55M721.15 83.55H739.64M739.64 83.55V102M721.15 102H739.64M739.64 102V120.45M721.15 120.45H739.64M739.64 120.45V138.9M721.15 138.9H739.64M739.64 138.9V157.35M758.13 28.2V46.65M739.64 46.65H758.13M758.13 46.65V65.1M739.64 65.1H758.13M758.13 65.1V83.55M739.64 83.55H758.13M758.13 83.55V102M739.64 102H758.13M758.13 102V120.45M739.64 120.45H758.13M758.13 120.45V138.9M739.64 138.9H758.13M758.13 138.9V157.35M776.62 28.2V46.65M758.13 46.65H776.62M776.62 46.65V65.1M758.13 65.1H776.62M776.62 65.1V83.55M758.13 83.55H776.62M776.62 83.55V102M758.13 102H776.62M776.62 102V120.45M758.13 120.45H776.62M776.62 120.45V138.9M758.13 138.9H776.62M776.62 138.9V157.35M795.11 28.2V46.65M776.62 46.65H795.11M795.11 46.65V65.1M776.62 65.1H795.11M795.11 65.1V83.55M776.62 83.55H795.11M795.11 83.55V102M776.62 102H795.11M776.62 120.45H795.11M776.62 138.9H795.11M795.11 46.65H813.6M795.11 65.1H813.6M795.11 83.55H813.6M813.6 102V120.45M795.11 120.45H813.6M813.6 120.45V138.9M795.11 138.9H813.6M832.09 28.2V46.65M832.09 65.1V83.55M813.6 83.55H832.09M832.09 83.55V102M813.6 102H832.09M832.09 102V120.45M813.6 120.45H832.09M850.58 28.2V46.65M850.58 65.1V83.55M832.09 83.55H850.58M850.58 83.55V102M832.09 102H850.58M850.58 102V120.45M869.07 28.2V46.65M850.58 46.65H869.07M869.07 46.65V65.1M850.58 65.1H869.07M869.07 65.1V83.55M850.58 83.55H869.07M869.07 83.55V102M850.58 102H869.07M850.58 120.45H869.07M869.07 120.45V138.9M850.58 138.9H869.07M869.07 138.9V157.35M869.07 46.65H887.56M869.07 65.1H887.56M869.07 83.55H887.56M869.07 138.9H887.56M906.05 28.2V46.65M887.56 46.65H906.05M906.05 46.65V65.1M887.56 65.1H906.05M906.05 65.1V83.55M887.56 83.55H906.05M906.05 83.55V102M887.56 102H906.05M906.05 102V120.45M887.56 120.45H906.05M906.05 120.45V138.9M887.56 138.9H906.05M906.05 138.9V157.35M924.54 28.2V46.65M906.05 46.65H924.54M924.54 46.65V65.1M906.05 65.1H924.54M906.05 83.55H924.54M906.05 102H924.54M906.05 120.45H924.54M906.05 138.9H924.54M943.03 28.2V46.65M924.54 46.65H943.03M980.01 83.55V102M961.52 102H980.01M980.01 102V120.45M961.52 120.45H980.01M980.01 120.45V138.9M998.5 28.2V46.65M980.01 46.65H998.5M980.01 65.1H998.5M980.01 83.55H998.5M998.5 83.55V102M980.01 102H998.5M980.01 120.45H998.5M998.5 120.45V138.9M1016.99 28.2V46.65M998.5 138.9H1016.99" stroke="#fe98a3"/>
<path d="M221.92 65.1H240.41M221.92 83.55H240.41M258.9 65.1V83.55M258.9 120.45V138.9M240.41 138.9H258.9M277.39 46.65V65.1M258.9 65.1H277.39M258.9 83.55H277.39M258.9 102H277.39M258.9 120.45H277.39M277.39 120.45V138.9M277.39 138.9H295.88M295.88 138.9V157.35" stroke="#ffeead"/>
<path d="M258.9 28.2V46.65M314.37 46.65H332.86M610.21 65.1V83.55M684.17 65.1H702.66M943.03 83.55V102M961.52 46.65H980.01" stroke="#ffc99c"/>
<path d="M258.9 138.9V157.35M258.9 46.65H277.39M258.9 138.9H277.39M277.39 138.9V157.35M277.39 46.65H295.88" stroke="#ffd5a3"/>
<path d="M277.39 28.2V46.65M832.09 138.9H850.58" stroke="#ffbb99"/>
<path d="M295.88 28.2V46.65M314.37 28.2V46.65M591.72 83.55H610.21M628.7 46.65V65.1M628.7 46.65H647.19M628.7 65.1H647.19M684.17 46.65H702.66M702.66 46.65V65.1M832.09 120.45V138.9M832.09 120.45H850.58M850.58 120.45V138.9M850.58 138.9V157.35M924.54 83.55V102M961.52 28.2V46.65" stroke="#ffa99e"/>
<path d="M314.37 46.65V65.1M314.37 65.1H332.86M943.03 102H961.52M943.03 120.45H961.52" stroke="#ffd79f"/>
<path d="M314.37 120.45H332.86M332.86 120.45V138.9M314.37 138.9H332.86M684.17 46.65V65.1M832.09 138.9V157.35M924.54 83.55H943.03M924.54 102H943.03" stroke="#ffb097"/>
<path d="M332.86 138.9V157.35M332.86 138.9H351.35M665.68 138.9H684.17M832.09 46.65V65.1M943.03 65.1V83.55M924.54 120.45H943.03M943.03 65.1H961.52M980.01 138.9V157.35M1016.99 46.65V65.1M998.5 65.1H1016.99" stroke="#ffa595"/>
<path d="M591.72 65.1V83.55M591.72 65.1H610.21" stroke="#ffdaa6"/>
<path d="M591.72 46.65H610.21" stroke="#f3f9cb"/>
<path d="M665.68 46.65H684.17M684.17 83.55V102" stroke="#ffcfbc"/>
<path d="M1035.48 46.65V65.1" stroke="#e8c9a2"/>
</g>
<path d="M74 83.05V102.5M73.5 83.55H92.99M74 101.5V120.95M74 119.95V139.4M74 138.4V157.85M73.5 157.35H92.99M92.49 27.7V47.15M91.99 28.2H111.48M92.49 46.15V65.6M92.49 64.6V84.05M91.99 157.35H111.48M110.48 28.2H129.97M110.48 157.35H129.97M128.97 28.2H148.46M147.96 138.4V157.85M128.97 157.35H148.46M166.45 27.7V47.15M147.46 28.2H166.95M166.45 46.15V65.6M166.45 64.6V84.05M166.45 83.05V102.5M166.45 101.5V120.95M166.45 119.95V139.4M147.46 138.9H166.95M147.46 157.35H166.95M165.95 28.2H185.44M165.95 157.35H185.44M184.44 28.2H203.93M184.44 157.35H203.93M202.93 28.2H222.42M202.93 157.35H222.42M240.41 27.7V47.15M221.42 28.2H240.91M240.41 46.15V65.6M240.41 64.6V84.05M240.41 83.05V102.5M240.41 101.5V120.95M240.41 119.95V139.4M240.41 138.4V157.85M221.42 157.35H240.91M239.91 28.2H259.4M239.91 157.35H259.4M258.4 28.2H277.89M258.4 157.35H277.89M276.89 28.2H296.38M276.89 157.35H296.38M295.38 28.2H314.87M314.37 83.05V102.5M314.37 101.5V120.95M314.37 119.95V139.4M314.37 138.4V157.85M295.38 157.35H314.87M332.86 27.7V47.15M313.87 28.2H333.36M332.86 46.15V65.6M332.86 64.6V84.05M313.87 83.55H333.36M313.87 157.35H333.36M332.36 28.2H351.85M332.36 157.35H351.85M350.85 28.2H370.34M350.85 157.35H370.34M369.34 28.2H388.83M388.33 119.95V139.4M388.33 138.4V157.85M369.34 157.35H388.83M406.82 27.7V47.15M387.83 28.2H407.32M406.82 46.15V65.6M406.82 64.6V84.05M406.82 83.05V102.5M406.82 101.5V120.95M387.83 120.45H407.32M387.83 157.35H407.32M406.32 28.2H425.81M406.32 157.35H425.81M424.81 28.2H444.3M424.81 157.35H444.3M443.3 28.2H462.79M443.3 157.35H462.79M461.79 28.2H481.28M480.78 46.15V65.6M480.78 64.6V84.05M480.78 83.05V102.5M480.78 101.5V120.95M480.78 119.95V139.4M480.78 138.4V157.85M461.79 157.35H481.28M499.27 27.7V47.15M480.28 46.65H499.77M480.28 28.2H499.77M480.28 157.35H499.77M498.77 28.2H518.26M498.77 157.35H518.26M517.26 28.2H536.75M517.26 157.35H536.75M535.75 28.2H555.24M554.74 83.05V102.5M554.74 101.5V120.95M554.74 119.95V139.4M554.74 138.4V157.85M535.75 157.35H555.24M573.23 27.7V47.15M554.24 28.2H573.73M573.23 46.15V65.6M573.23 64.6V84.05M554.24 83.55H573.73M554.24 157.35H573.73M572.73 28.2H592.22M572.73 157.35H592.22M591.22 28.2H610.71M591.22 157.35H610.71M609.71 28.2H629.2M628.7 138.4V157.85M609.71 157.35H629.2M647.19 27.7V47.15M628.2 28.2H647.69M647.19 46.15V65.6M647.19 64.6V84.05M647.19 83.05V102.5M647.19 101.5V120.95M647.19 119.95V139.4M628.2 138.9H647.69M628.2 157.35H647.69M646.69 28.2H666.18M646.69 157.35H666.18M665.18 28.2H684.67M665.18 157.35H684.67M683.67 28.2H703.16M683.67 157.35H703.16M702.16 28.2H721.65M721.15 64.6V84.05M721.15 83.05V102.5M721.15 101.5V120.95M721.15 119.95V139.4M721.15 138.4V157.85M702.16 157.35H721.65M739.64 27.7V47.15M720.65 28.2H740.14M739.64 46.15V65.6M720.65 65.1H740.14M720.65 157.35H740.14M739.14 28.2H758.63M739.14 157.35H758.63M757.63 28.2H777.12M757.63 157.35H777.12M776.12 28.2H795.61M795.11 101.5V120.95M795.11 119.95V139.4M795.11 138.4V157.85M776.12 157.35H795.61M813.6 27.7V47.15M794.61 28.2H814.1M813.6 46.15V65.6M813.6 64.6V84.05M813.6 83.05V102.5M794.61 102H814.1M794.61 157.35H814.1M813.1 28.2H832.59M813.1 157.35H832.59M831.59 28.2H851.08M831.59 157.35H851.08M850.08 28.2H869.57M850.08 157.35H869.57M887.56 27.7V47.15M868.57 28.2H888.06M887.56 46.15V65.6M887.56 64.6V84.05M887.56 83.05V102.5M887.56 101.5V120.95M887.56 119.95V139.4M887.56 138.4V157.85M868.57 157.35H888.06M887.06 28.2H906.55M887.06 157.35H906.55M905.55 28.2H925.04M905.55 157.35H925.04M924.04 28.2H943.53M924.04 157.35H943.53M942.53 28.2H962.02M961.52 64.6V84.05M961.52 83.05V102.5M961.52 101.5V120.95M961.52 119.95V139.4M961.52 138.4V157.85M942.53 157.35H962.02M980.01 27.7V47.15M961.02 28.2H980.51M980.01 46.15V65.6M961.02 65.1H980.51M961.02 157.35H980.51M979.51 28.2H999M979.51 157.35H999M998 28.2H1017.49M998 157.35H1017.49M1016.49 28.2H1035.98M1035.48 119.95V139.4M1035.48 138.4V157.85M1016.49 157.35H1035.98M1053.97 27.7V47.15M1034.98 28.2H1054.47M1053.97 46.15V65.6M1053.97 64.6V84.05M1053.97 83.05V102.5M1053.97 101.5V120.95M1034.98 120.45H1054.47" fill="none" stroke="#000" stroke-width="1.3" stroke-opacity="0.9"/>
<text class="m" x="119.8" y="23.7">Jan</text>
<text class="m" x="198" y="23.7">Feb</text>
<text class="m" x="277.3" y="23.7">Mar</text>
<text class="m" x="357" y="23.7">Apr</text>
<text class="m" x="434" y="23.7">May</text>
<text class="m" x="515" y="23.7">Jun</text>
<text class="m" x="596.2" y="23.7">Jul</text>
<text class="m" x="672" y="23.7">Aug</text>
<text class="m" x="750.8" y="23.7">Sep</text>
<text class="m" x="831.8" y="23.7">Oct</text>
<text class="m" x="909.3" y="23.7">Nov</text>
<text class="m" x="988.2" y="23.7">Dec</text>
<text class="d" x="68.5" y="42.52">Su</text>
<text class="d" x="68.5" y="60.98">Mo</text>
<text class="d" x="68.5" y="79.42">Tu</text>
<text class="d" x="68.5" y="97.88">We</text>
<text class="d" x="68.5" y="116.32">Th</text>
<text class="d" x="68.5" y="134.77">Fr</text>
<text class="d" x="68.5" y="153.22">Sa</text>
<text class="y" transform="translate(33 92.78) rotate(-90)" x="0" y="0">2020</text>
</g>
<g>
<rect x="74" y="285.05" width="18.49" height="18.47" fill="#b0d878"/>
<rect x="74" y="303.52" width="18.49" height="18.47" fill="#b0d878"/>
<rect x="92.49" y="192.7" width="18.49" height="18.47" fill="#f2b06a"/>
<rect x="92.49" y="211.17" width="18.49" height="18.47" fill="#7bbb6d"/>
<rect x="92.49" y="229.64" width="18.49" height="18.47" fill="#fadf8f"/>
<rect x="92.49" y="248.11" width="18.49" height="18.47" fill="#7bbb6d"/>
<rect x="92.49" y="266.58" width="18.49" height="18.47" fill="#7bbb6d"/>
<rect x="92.49" y="285.05" width="18.49" height="18.47" fill="#b0d878"/>
<rect x="92.49" y="303.52" width="18.49" height="18.47" fill="#fffde2"/>
<rect x="110.98" y="192.7" width="18.49" height="18.47" fill="#9c1e2c"/>
<rect x="110.98" y="211.17" width="18.49" height="18.47" fill="#fffde2"/>
<rect x="110.98" y="229.64" width="18.49" height="18.47" fill="#fadf8f"/>
<rect x="110.98" y="248.11" width="18.49" height="18.47" fill="#fadf8f"/>
<rect x="110.98" y="266.58" width="18.49" height="18.47" fill="#ddee97"/>
<rect x="110.98" y="285.05" width="18.49" height="18.47" fill="#b0d878"/>
<rect x="110.98" y="303.52" width="18.49" height="18.47" fill="#ddee97"/>
<rect x="129.47" y="192.7" width="18.49" height="18.47" fill="#f2b06a"/>
<rect x="129.47" y="211.17" width="18.49" height="18.47" fill="#b0d878"/>
<rect x="129.47" y="229.64" width="18.49" height="18.47" fill="#ddee97"/>
<rect x="129.47" y="248.11" width="18.49" height="18.47" fill="#b0d878"/>
<rect x="129.47" y="266.58" width="18.49" height="18.47" fill="#fadf8f"/>
<rect x="129.47" y="285.05" width="18.49" height="18.47" fill="#fadf8f"/>
<rect x="129.47" y="303.52" width="18.49" height="18.47" fill="#fadf8f"/>
<rect x="147.96" y="192.7" width="18.49" height="18.47" fill="#cf4431"/>
<rect x="147.96" y="211.17" width="18.49" height="18.47" fill="#f2b06a"/>
<rect x="147.96" y="229.64" width="18.49" height="18.47" fill="#fffde2"/>
<rect x="147.96" y="248.11" width="18.49" height="18.47" fill="#9c1e2c"/>
<rect x="147.96" y="266.58" width="18.49" height="18.47" fill="#9c1e2c"/>
<rect x="147.96" y="285.05" width="18.49" height="18.47" fill="#9c1e2c"/>
<rect x="147.96" y="303.52" width="18.49" height="18.47" fill="#9c1e2c"/>
<rect x="166.45" y="192.7" width="18.49" height="18.47" fill="#cf4431"/>
<rect x="166.45" y="211.17" width="18.49" height="18.47" fill="#b0d878"/>
<rect x="166.45" y="229.64" width="18.49" height="18.47" fill="#e9774d"/>
<rect x="166.45" y="248.11" width="18.49" height="18.47" fill="#ddee97"/>
<rect x="166.45" y="266.58" width="18.49" height="18.47" fill="#b0d878"/>
<rect x="166.45" y="285.05" width="18.49" height="18.47" fill="#b0d878"/>
<rect x="166.45" y="303.52" width="18.49" height="18.47" fill="#ddee97"/>
<rect x="184.94" y="192.7" width="18.49" height="18.47" fill="#fffde2"/>
<rect x="184.94" y="211.17" width="18.49" height="18.47" fill="#9c1e2c"/>
<rect x="184.94" y="229.64" width="18.49" height="18.47" fill="#ddee97"/>
<rect x="184.94" y="248.11" width="18.49" height="18.47" fill="#ddee97"/>
<rect x="184.94" y="266.58" width="18.49" height="18.47" fill="#ddee97"/>
<rect x="184.94" y="285.05" width="18.49" height="18.47" fill="#b0d878"/>
<rect x="184.94" y="303.52" width="18.49" height="18.47" fill="#ddee97"/>
<rect x="203.43" y="192.7" width="18.49" height="18.47" fill="#fadf8f"/>
<rect x="203.43" y="211.17" width="18.49" height="18.47" fill="#b0d878"/>
<rect x="203.43" y="229.64" width="18.49" height="18.47" fill="#fffde2"/>
<rect x="203.43" y="248.11" width="18.49" height="18.47" fill="#ddee97"/>
<rect x="203.43" y="266.58" width="18.49" height="18.47" fill="#fffde2"/>
<rect x="203.43" y="285.05" width="18.49" height="18.47" fill="#9c1e2c"/>
<rect x="203.43" y="303.52" width="18.49" height="18.47" fill="#ddee97"/>
<rect x="221.92" y="192.7" width="18.49" height="18.47" fill="#fffde2"/>
<rect x="221.92" y="211.17" width="18.49" height="18.47" fill="#cf4431"/>
<rect x="221.92" y="229.64" width="18.49" height="18.47" fill="#b0d878"/>
<rect x="221.92" y="248.11" width="18.49" height="18.47" fill="#9c1e2c"/>
<rect x="221.92" y="266.58" width="18.49" height="18.47" fill="#b0d878"/>
<rect x="221.92" y="285.05" width="18.49" height="18.47" fill="#b0d878"/>
<rect x="221.92" y="303.52" width="18.49" height="18.47" fill="#9c1e2c"/>
<rect x="240.41" y="192.7" width="18.49" height="18.47" fill="#fadf8f"/>
<rect x="240.41" y="211.17" width="18.49" height="18.47" fill="#ddee97"/>
<rect x="240.41" y="229.64" width="18.49" height="18.47" fill="#ddee97"/>
<rect x="240.41" y="248.11" width="18.49" height="18.47" fill="#ddee97"/>
<rect x="240.41" y="266.58" width="18.49" height="18.47" fill="#f2b06a"/>
<rect x="240.41" y="285.05" width="18.49" height="18.47" fill="#ddee97"/>
<rect x="240.41" y="303.52" width="18.49" height="18.47" fill="#cf4431"/>
<rect x="258.9" y="192.7" width="18.49" height="18.47" fill="#9c1e2c"/>
<rect x="258.9" y="211.17" width="18.49" height="18.47" fill="#9c1e2c"/>
<rect x="258.9" y="229.64" width="18.49" height="18.47" fill="#9c1e2c"/>
<rect x="258.9" y="248.11" width="18.49" height="18.47" fill="#fffde2"/>
<rect x="258.9" y="266.58" width="18.49" height="18.47" fill="#fadf8f"/>
<rect x="258.9" y="285.05" width="18.49" height="18.47" fill="#fadf8f"/>
<rect x="258.9" y="303.52" width="18.49" height="18.47" fill="#f2b06a"/>
<rect x="277.39" y="192.7" width="18.49" height="18.47" fill="#9c1e2c"/>
<rect x="277.39" y="211.17" width="18.49" height="18.47" fill="#9c1e2c"/>
<rect x="277.39" y="229.64" width="18.49" height="18.47" fill="#fadf8f"/>
<rect x="277.39" y="248.11" width="18.49" height="18.47" fill="#ddee97"/>
<rect x="277.39" y="266.58" width="18.49" height="18.47" fill="#ddee97"/>
<rect x="277.39" y="285.05" width="18.49" height="18.47" fill="#fffde2"/>
<rect x="277.39" y="303.52" width="18.49" height="18.47" fill="#fffde2"/>
<rect x="295.88" y="192.7" width="18.49" height="18.47" fill="#e9774d"/>
<rect x="295.88" y="211.17" width="18.49" height="18.47" fill="#fffde2"/>
<rect x="295.88" y="229.64" width="18.49" height="18.47" fill="#cf4431"/>
<rect x="295.88" y="248.11" width="18.49" height="18.47" fill="#9c1e2c"/>
<rect x="295.88" y="266.58" width="18.49" height="18.47" fill="#9c1e2c"/>
<rect x="295.88" y="285.05" width="18.49" height="18.47" fill="#9c1e2c"/>
<rect x="295.88" y="303.52" width="18.49" height="18.47" fill="#9c1e2c"/>
<rect x="314.37" y="192.7" width="18.49" height="18.47" fill="#9c1e2c"/>
<rect x="314.37" y="211.17" width="18.49" height="18.47" fill="#9c1e2c"/>
<rect x="314.37" y="229.64" width="18.49" height="18.47" fill="#9c1e2c"/>
<rect x="314.37" y="248.11" width="18.49" height="18.47" fill="#9c1e2c"/>
<rect x="314.37" y="266.58" width="18.49" height="18.47" fill="#fffde2"/>
<rect x="314.37" y="285.05" width="18.49" height="18.47" fill="#fffde2"/>
<rect x="314.37" y="303.52" width="18.49" height="18.47" fill="#f2b06a"/>
<rect x="332.86" y="192.7" width="18.49" height="18.47" fill="#9c1e2c"/>
<rect x="332.86" y="211.17" width="18.49" height="18.47" fill="#fffde2"/>
<rect x="332.86" y="229.64" width="18.49" height="18.47" fill="#fadf8f"/>
<rect x="332.86" y="248.11" width="18.49" height="18.47" fill="#fffde2"/>
<rect x="332.86" y="266.58" width="18.49" height="18.47" fill="#9c1e2c"/>
<rect x="332.86" y="285.05" width="18.49" height="18.47" fill="#9c1e2c"/>
<rect x="332.86" y="303.52" width="18.49" height="18.47" fill="#cf4431"/>
<rect x="351.35" y="192.7" width="18.49" height="18.47" fill="#9c1e2c"/>
<rect x="351.35" y="211.17" width="18.49" height="18.47" fill="#9c1e2c"/>
<rect x="351.35" y="229.64" width="18.49" height="18.47" fill="#fffde2"/>
<rect x="351.35" y="248.11" width="18.49" height="18.47" fill="#fffde2"/>
<rect x="351.35" y="266.58" width="18.49" height="18.47" fill="#fffde2"/>
<rect x="351.35" y="285.05" width="18.49" height="18.47" fill="#fffde2"/>
<rect x="351.35" y="303.52" width="18.49" height="18.47" fill="#ddee97"/>
<rect x="369.84" y="192.7" width="18.49" height="18.47" fill="#e9774d"/>
<rect x="369.84" y="211.17" width="18.49" height="18.47" fill="#ddee97"/>
<rect x="369.84" y="229.64" width="18.49" height="18.47" fill="#b0d878"/>
<rect x="369.84" y="248.11" width="18.49" height="18.47" fill="#ddee97"/>
<rect x="369.84" y="266.58" width="18.49" height="18.47" fill="#7bbb6d"/>
<rect x="369.84" y="285.05" width="18.49" height="18.47" fill="#9c1e2c"/>
<rect x="369.84" y="303.52" width="18.49" height="18.47" fill="#fadf8f"/>
<rect x="388.33" y="192.7" width="18.49" height="18.47" fill="#cf4431"/>
<rect x="388.33" y="211.17" width="18.49" height="18.47" fill="#fadf8f"/>
<rect x="388.33" y="229.64" width="18.49" height="18.47" fill="#fadf8f"/>
<rect x="388.33" y="248.11" width="18.49" height="18.47" fill="#7bbb6d"/>
<rect x="388.33" y="266.58" width="18.49" height="18.47" fill="#b0d878"/>
<rect x="388.33" y="285.05" width="18.49" height="18.47" fill="#b0d878"/>
<rect x="388.33" y="303.52" width="18.49" height="18.47" fill="#7bbb6d"/>
<rect x="406.82" y="192.7" width="18.49" height="18.47" fill="#e9774d"/>
<rect x="406.82" y="211.17" width="18.49" height="18.47" fill="#ddee97"/>
<rect x="406.82" y="229.64" width="18.49" height="18.47" fill="#9c1e2c"/>
<rect x="406.82" y="248.11" width="18.49" height="18.47" fill="#e9774d"/>
<rect x="406.82" y="266.58" width="18.49" height="18.47" fill="#cf4431"/>
<rect x="406.82" y="285.05" width="18.49" height="18.47" fill="#cf4431"/>
<rect x="406.82" y="303.52" width="18.49" height="18.47" fill="#cf4431"/>
<rect x="425.31" y="192.7" width="18.49" height="18.47" fill="#9c1e2c"/>
<rect x="425.31" y="211.17" width="18.49" height="18.47" fill="#cf4431"/>
<rect x="425.31" y="229.64" width="18.49" height="18.47" fill="#f2b06a"/>
<rect x="425.31" y="248.11" width="18.49" height="18.47" fill="#fadf8f"/>
<rect x="425.31" y="266.58" width="18.49" height="18.47" fill="#fffde2"/>
<rect x="425.31" y="285.05" width="18.49" height="18.47" fill="#7bbb6d"/>
<rect x="425.31" y="303.52" width="18.49" height="18.47" fill="#7bbb6d"/>
<rect x="443.8" y="192.7" width="18.49" height="18.47" fill="#b0d878"/>
<rect x="443.8" y="211.17" width="18.49" height="18.47" fill="#fffde2"/>
<rect x="443.8" y="229.64" width="18.49" height="18.47" fill="#fffde2"/>
<rect x="443.8" y="248.11" width="18.49" height="18.47" fill="#fadf8f"/>
<rect x="443.8" y="266.58" width="18.49" height="18.47" fill="#9c1e2c"/>
<rect x="443.8" y="285.05" width="18.49" height="18.47" fill="#cf4431"/>
<rect x="443.8" y="303.52" width="18.49" height="18.47" fill="#ddee97"/>
<rect x="462.29" y="192.7" width="18.49" height="18.47" fill="#fadf8f"/>
<rect x="462.29" y="211.17" width="18.49" height="18.47" fill="#b0d878"/>
<rect x="462.29" y="229.64" width="18.49" height="18.47" fill="#9c1e2c"/>
<rect x="462.29" y="248.11" width="18.49" height="18.47" fill="#9c1e2c"/>
<rect x="462.29" y="266.58" width="18.49" height="18.47" fill="#e9774d"/>
<rect x="462.29" y="285.05" width="18.49" height="18.47" fill="#ddee97"/>
<rect x="462.29" y="303.52" width="18.49" height="18.47" fill="#ddee97"/>
<rect x="480.78" y="192.7" width="18.49" height="18.47" fill="#b0d878"/>
<rect x="480.78" y="211.17" width="18.49" height="18.47" fill="#7bbb6d"/>
<rect x="480.78" y="229.64" width="18.49" height="18.47" fill="#7bbb6d"/>
<rect x="480.78" y="248.11" width="18.49" height="18.47" fill="#b0d878"/>
<rect x="480.78" y="266.58" width="18.49" height="18.47" fill="#b0d878"/>
<rect x="480.78" y="285.05" width="18.49" height="18.47" fill="#b0d878"/>
<rect x="480.78" y="303.52" width="18.49" height="18.47" fill="#7bbb6d"/>
<rect x="499.27" y="192.7" width="18.49" height="18.47" fill="#b0d878"/>
<rect x="499.27" y="211.17" width="18.49" height="18.47" fill="#b0d878"/>
<rect x="499.27" y="229.64" width="18.49" height="18.47" fill="#ddee97"/>
<rect x="499.27" y="248.11" width="18.49" height="18.47" fill="#fffde2"/>
<rect x="499.27" y="266.58" width="18.49" height="18.47" fill="#9c1e2c"/>
<rect x="499.27" y="285.05" width="18.49" height="18.47" fill="#e9774d"/>
<rect x="499.27" y="303.52" width="18.49" height="18.47" fill="#fffde2"/>
<rect x="517.76" y="192.7" width="18.49" height="18.47" fill="#7bbb6d"/>
<rect x="517.76" y="211.17" width="18.49" height="18.47" fill="#fffde2"/>
<rect x="517.76" y="229.64" width="18.49" height="18.47" fill="#7bbb6d"/>
<rect x="517.76" y="248.11" width="18.49" height="18.47" fill="#b0d878"/>
<rect x="517.76" y="266.58" width="18.49" height="18.47" fill="#7bbb6d"/>
<rect x="517.76" y="285.05" width="18.49" height="18.47" fill="#7bbb6d"/>
<rect x="517.76" y="303.52" width="18.49" height="18.47" fill="#9c1e2c"/>
<rect x="536.25" y="192.7" width="18.49" height="18.47" fill="#ddee97"/>
<rect x="536.25" y="211.17" width="18.49" height="18.47" fill="#e9774d"/>
<rect x="536.25" y="229.64" width="18.49" height="18.47" fill="#fffde2"/>
<rect x="536.25" y="248.11" width="18.49" height="18.47" fill="#9c1e2c"/>
<rect x="536.25" y="266.58" width="18.49" height="18.47" fill="#9c1e2c"/>
<rect x="536.25" y="285.05" width="18.49" height="18.47" fill="#9c1e2c"/>
<rect x="536.25" y="303.52" width="18.49" height="18.47" fill="#7bbb6d"/>
<rect x="554.74" y="192.7" width="18.49" height="18.47" fill="#7bbb6d"/>
<rect x="554.74" y="211.17" width="18.49" height="18.47" fill="#7bbb6d"/>
<rect x="554.74" y="229.64" width="18.49" height="18.47" fill="#7bbb6d"/>
<rect x="554.74" y="248.11" width="18.49" height="18.47" fill="#7bbb6d"/>
<rect x="554.74" y="266.58" width="18.49" height="18.47" fill="#fffde2"/>
<rect x="554.74" y="285.05" width="18.49" height="18.47" fill="#7bbb6d"/>
<rect x="554.74" y="303.52" width="18.49" height="18.47" fill="#7bbb6d"/>
<rect x="573.23" y="192.7" width="18.49" height="18.47" fill="#b0d878"/>
<rect x="573.23" y="211.17" width="18.49" height="18.47" fill="#fadf8f"/>
<rect x="573.23" y="229.64" width="18.49" height="18.47" fill="#9c1e2c"/>
<rect x="573.23" y="248.11" width="18.49" height="18.47" fill="#fadf8f"/>
<rect x="573.23" y="266.58" width="18.49" height="18.47" fill="#e9774d"/>
<rect x="573.23" y="285.05" width="18.49" height="18.47" fill="#9c1e2c"/>
<rect x="573.23" y="303.52" width="18.49" height="18.47" fill="#fadf8f"/>
<rect x="591.72" y="192.7" width="18.49" height="18.47" fill="#9c1e2c"/>
<rect x="591.72" y="211.17" width="18.49" height="18.47" fill="#9c1e2c"/>
<rect x="591.72" y="229.64" width="18.49" height="18.47" fill="#fffde2"/>
<rect x="591.72" y="248.11" width="18.49" height="18.47" fill="#ddee97"/>
<rect x="591.72" y="266.58" width="18.49" height="18.47" fill="#cf4431"/>
<rect x="591.72" y="285.05" width="18.49" height="18.47" fill="#b0d878"/>
<rect x="591.72" y="303.52" width="18.49" height="18.47" fill="#b0d878"/>
<rect x="610.21" y="192.7" width="18.49" height="18.47" fill="#e9774d"/>
<rect x="610.21" y="211.17" width="18.49" height="18.47" fill="#ddee97"/>
<rect x="610.21" y="229.64" width="18.49" height="18.47" fill="#fadf8f"/>
<rect x="610.21" y="248.11" width="18.49" height="18.47" fill="#9c1e2c"/>
<rect x="610.21" y="266.58" width="18.49" height="18.47" fill="#fadf8f"/>
<rect x="610.21" y="285.05" width="18.49" height="18.47" fill="#fffde2"/>
<rect x="610.21" y="303.52" width="18.49" height="18.47" fill="#ddee97"/>
<rect x="628.7" y="192.7" width="18.49" height="18.47" fill="#b0d878"/>
<rect x="628.7" y="211.17" width="18.49" height="18.47" fill="#f2b06a"/>
<rect x="628.7" y="229.64" width="18.49" height="18.47" fill="#fadf8f"/>
<rect x="628.7" y="248.11" width="18.49" height="18.47" fill="#b0d878"/>
<rect x="628.7" y="266.58" width="18.49" height="18.47" fill="#7bbb6d"/>
<rect x="628.7" y="285.05" width="18.49" height="18.47" fill="#7bbb6d"/>
<rect x="628.7" y="303.52" width="18.49" height="18.47" fill="#7bbb6d"/>
<rect x="647.19" y="192.7" width="18.49" height="18.47" fill="#ddee97"/>
<rect x="647.19" y="211.17" width="18.49" height="18.47" fill="#f2b06a"/>
<rect x="647.19" y="229.64" width="18.49" height="18.47" fill="#fadf8f"/>
<rect x="647.19" y="248.11" width="18.49" height="18.47" fill="#9c1e2c"/>
<rect x="647.19" y="266.58" width="18.49" height="18.47" fill="#f2b06a"/>
<rect x="647.19" y="285.05" width="18.49" height="18.47" fill="#e9774d"/>
<rect x="647.19" y="303.52" width="18.49" height="18.47" fill="#9c1e2c"/>
<rect x="665.68" y="192.7" width="18.49" height="18.47" fill="#9c1e2c"/>
<rect x="665.68" y="211.17" width="18.49" height="18.47" fill="#9c1e2c"/>
<rect x="665.68" y="229.64" width="18.49" height="18.47" fill="#e9774d"/>
<rect x="665.68" y="248.11" width="18.49" height="18.47" fill="#b0d878"/>
<rect x="665.68" y="266.58" width="18.49" height="18.47" fill="#9c1e2c"/>
<rect x="665.68" y="285.05" width="18.49" height="18.47" fill="#fffde2"/>
<rect x="665.68" y="303.52" width="18.49" height="18.47" fill="#9c1e2c"/>
<rect x="684.17" y="192.7" width="18.49" height="18.47" fill="#449658"/>
<rect x="684.17" y="211.17" width="18.49" height="18.47" fill="#449658"/>
<rect x="684.17" y="229.64" width="18.49" height="18.47" fill="#9c1e2c"/>
<rect x="684.17" y="248.11" width="18.49" height="18.47" fill="#fffde2"/>
<rect x="684.17" y="266.58" width="18.49" height="18.47" fill="#9c1e2c"/>
<rect x="684.17" y="285.05" width="18.49" height="18.47" fill="#9c1e2c"/>
<rect x="684.17" y="303.52" width="18.49" height="18.47" fill="#7bbb6d"/>
<rect x="702.66" y="192.7" width="18.49" height="18.47" fill="#cf4431"/>
<rect x="702.66" y="211.17" width="18.49" height="18.47" fill="#b0d878"/>
<rect x="702.66" y="229.64" width="18.49" height="18.47" fill="#7bbb6d"/>
<rect x="702.66" y="248.11" width="18.49" height="18.47" fill="#fadf8f"/>
<rect x="702.66" y="266.58" width="18.49" height="18.47" fill="#fffde2"/>
<rect x="702.66" y="285.05" width="18.49" height="18.47" fill="#7bbb6d"/>
<rect x="702.66" y="303.52" width="18.49" height="18.47" fill="#7bbb6d"/>
<rect x="721.15" y="192.7" width="18.49" height="18.47" fill="#9c1e2c"/>
<rect x="721.15" y="211.17" width="18.49" height="18.47" fill="#7bbb6d"/>
<rect x="721.15" y="229.64" width="18.49" height="18.47" fill="#b0d878"/>
<rect x="721.15" y="248.11" width="18.49" height="18.47" fill="#b0d878"/>
<rect x="721.15" y="266.58" width="18.49" height="18.47" fill="#9c1e2c"/>
<rect x="721.15" y="285.05" width="18.49" height="18.47" fill="#449658"/>
<rect x="721.15" y="303.52" width="18.49" height="18.47" fill="#449658"/>
<rect x="739.64" y="192.7" width="18.49" height="18.47" fill="#9c1e2c"/>
<rect x="739.64" y="211.17" width="18.49" height="18.47" fill="#9c1e2c"/>
<rect x="739.64" y="229.64" width="18.49" height="18.47" fill="#ddee97"/>
<rect x="739.64" y="248.11" width="18.49" height="18.47" fill="#9c1e2c"/>
<rect x="739.64" y="266.58" width="18.49" height="18.47" fill="#9c1e2c"/>
<rect x="739.64" y="285.05" width="18.49" height="18.47" fill="#fadf8f"/>
<rect x="739.64" y="303.52" width="18.49" height="18.47" fill="#ddee97"/>
<rect x="758.13" y="192.7" width="18.49" height="18.47" fill="#7bbb6d"/>
<rect x="758.13" y="211.17" width="18.49" height="18.47" fill="#449658"/>
<rect x="758.13" y="229.64" width="18.49" height="18.47" fill="#7bbb6d"/>
<rect x="758.13" y="248.11" width="18.49" height="18.47" fill="#9c1e2c"/>
<rect x="758.13" y="266.58" width="18.49" height="18.47" fill="#9c1e2c"/>
<rect x="758.13" y="285.05" width="18.49" height="18.47" fill="#2b663c"/>
<rect x="758.13" y="303.52" width="18.49" height="18.47" fill="#2b663c"/>
<rect x="776.62" y="192.7" width="18.49" height="18.47" fill="#2b663c"/>
<rect x="776.62" y="211.17" width="18.49" height="18.47" fill="#2b663c"/>
<rect x="776.62" y="229.64" width="18.49" height="18.47" fill="#b0d878"/>
<rect x="776.62" y="248.11" width="18.49" height="18.47" fill="#9c1e2c"/>
<rect x="776.62" y="266.58" width="18.49" height="18.47" fill="#b0d878"/>
<rect x="776.62" y="285.05" width="18.49" height="18.47" fill="#7bbb6d"/>
<rect x="776.62" y="303.52" width="18.49" height="18.47" fill="#2b663c"/>
<rect x="795.11" y="192.7" width="18.49" height="18.47" fill="#2b663c"/>
<rect x="795.11" y="211.17" width="18.49" height="18.47" fill="#9c1e2c"/>
<rect x="795.11" y="229.64" width="18.49" height="18.47" fill="#2b663c"/>
<rect x="795.11" y="248.11" width="18.49" height="18.47" fill="#2b663c"/>
<rect x="795.11" y="266.58" width="18.49" height="18.47" fill="#2b663c"/>
<rect x="795.11" y="285.05" width="18.49" height="18.47" fill="#7bbb6d"/>
<rect x="795.11" y="303.52" width="18.49" height="18.47" fill="#449658"/>
<rect x="813.6" y="192.7" width="18.49" height="18.47" fill="#2b663c"/>
<rect x="813.6" y="211.17" width="18.49" height="18.47" fill="#2b663c"/>
<rect x="813.6" y="229.64" width="18.49" height="18.47" fill="#e9774d"/>
<rect x="813.6" y="248.11" width="18.49" height="18.47" fill="#ddee97"/>
<rect x="813.6" y="266.58" width="18.49" height="18.47" fill="#b0d878"/>
<rect x="813.6" y="285.05" width="18.49" height="18.47" fill="#449658"/>
<rect x="813.6" y="303.52" width="18.49" height="18.47" fill="#7bbb6d"/>
<rect x="832.09" y="192.7" width="18.49" height="18.47" fill="#2b663c"/>
<rect x="832.09" y="211.17" width="18.49" height="18.47" fill="#cf4431"/>
<rect x="832.09" y="229.64" width="18.49" height="18.47" fill="#449658"/>
<rect x="832.09" y="248.11" width="18.49" height="18.47" fill="#2b663c"/>
<rect x="832.09" y="266.58" width="18.49" height="18.47" fill="#9c1e2c"/>
<rect x="832.09" y="285.05" width="18.49" height="18.47" fill="#2b663c"/>
<rect x="832.09" y="303.52" width="18.49" height="18.47" fill="#2b663c"/>
<rect x="850.58" y="192.7" width="18.49" height="18.47" fill="#2b663c"/>
<rect x="850.58" y="211.17" width="18.49" height="18.47" fill="#449658"/>
<rect x="850.58" y="229.64" width="18.49" height="18.47" fill="#f2b06a"/>
<rect x="850.58" y="248.11" width="18.49" height="18.47" fill="#fadf8f"/>
<rect x="850.58" y="266.58" width="18.49" height="18.47" fill="#449658"/>
<rect x="850.58" y="285.05" width="18.49" height="18.47" fill="#449658"/>
<rect x="850.58" y="303.52" width="18.49" height="18.47" fill="#9c1e2c"/>
<rect x="869.07" y="192.7" width="18.49" height="18.47" fill="#2b663c"/>
<rect x="869.07" y="211.17" width="18.49" height="18.47" fill="#449658"/>
<rect x="869.07" y="229.64" width="18.49" height="18.47" fill="#2b663c"/>
<rect x="869.07" y="248.11" width="18.49" height="18.47" fill="#7bbb6d"/>
<rect x="869.07" y="266.58" width="18.49" height="18.47" fill="#449658"/>
<rect x="869.07" y="285.05" width="18.49" height="18.47" fill="#2b663c"/>
<rect x="869.07" y="303.52" width="18.49" height="18.47" fill="#2b663c"/>
<rect x="887.56" y="192.7" width="18.49" height="18.47" fill="#fadf8f"/>
<rect x="887.56" y="211.17" width="18.49" height="18.47" fill="#2b663c"/>
<rect x="887.56" y="229.64" width="18.49" height="18.47" fill="#b0d878"/>
<rect x="887.56" y="248.11" width="18.49" height="18.47" fill="#e9774d"/>
<rect x="887.56" y="266.58" width="18.49" height="18.47" fill="#449658"/>
<rect x="887.56" y="285.05" width="18.49" height="18.47" fill="#7bbb6d"/>
<rect x="887.56" y="303.52" width="18.49" height="18.47" fill="#2b663c"/>
<rect x="906.05" y="192.7" width="18.49" height="18.47" fill="#7bbb6d"/>
<rect x="906.05" y="211.17" width="18.49" height="18.47" fill="#f2b06a"/>
<rect x="906.05" y="229.64" width="18.49" height="18.47" fill="#2b663c"/>
<rect x="906.05" y="248.11" width="18.49" height="18.47" fill="#9c1e2c"/>
<rect x="906.05" y="266.58" width="18.49" height="18.47" fill="#ddee97"/>
<rect x="906.05" y="285.05" width="18.49" height="18.47" fill="#449658"/>
<rect x="906.05" y="303.52" width="18.49" height="18.47" fill="#449658"/>
<rect x="924.54" y="192.7" width="18.49" height="18.47" fill="#449658"/>
<rect x="924.54" y="211.17" width="18.49" height="18.47" fill="#449658"/>
<rect x="924.54" y="229.64" width="18.49" height="18.47" fill="#ddee97"/>
<rect x="924.54" y="248.11" width="18.49" height="18.47" fill="#cf4431"/>
<rect x="924.54" y="266.58" width="18.49" height="18.47" fill="#b0d878"/>
<rect x="924.54" y="285.05" width="18.49" height="18.47" fill="#449658"/>
<rect x="924.54" y="303.52" width="18.49" height="18.47" fill="#2b663c"/>
<rect x="943.03" y="192.7" width="18.49" height="18.47" fill="#449658"/>
<rect x="943.03" y="211.17" width="18.49" height="18.47" fill="#449658"/>
<rect x="943.03" y="229.64" width="18.49" height="18.47" fill="#2b663c"/>
<rect x="943.03" y="248.11" width="18.49" height="18.47" fill="#7bbb6d"/>
<rect x="943.03" y="266.58" width="18.49" height="18.47" fill="#449658"/>
<rect x="943.03" y="285.05" width="18.49" height="18.47" fill="#7bbb6d"/>
<rect x="943.03" y="303.52" width="18.49" height="18.47" fill="#2b663c"/>
<rect x="961.52" y="192.7" width="18.49" height="18.47" fill="#7bbb6d"/>
<rect x="961.52" y="211.17" width="18.49" height="18.47" fill="#7bbb6d"/>
<rect x="961.52" y="229.64" width="18.49" height="18.47" fill="#7bbb6d"/>
<rect x="961.52" y="248.11" width="18.49" height="18.47" fill="#7bbb6d"/>
<rect x="961.52" y="266.58" width="18.49" height="18.47" fill="#2b663c"/>
<rect x="961.52" y="285.05" width="18.49" height="18.47" fill="#9c1e2c"/>
<rect x="961.52" y="303.52" width="18.49" height="18.47" fill="#2b663c"/>
<rect x="980.01" y="192.7" width="18.49" height="18.47" fill="#ddee97"/>
<rect x="980.01" y="211.17" width="18.49" height="18.47" fill="#449658"/>
<rect x="980.01" y="229.64" width="18.49" height="18.47" fill="#449658"/>
<rect x="980.01" y="248.11" width="18.49" height="18.47" fill="#b0d878"/>
<rect x="980.01" y="266.58" width="18.49" height="18.47" fill="#449658"/>
<rect x="980.01" y="285.05" width="18.49" height="18.47" fill="#2b663c"/>
<rect x="980.01" y="303.52" width="18.49" height="18.47" fill="#2b663c"/>
<rect x="998.5" y="192.7" width="18.49" height="18.47" fill="#449658"/>
<rect x="998.5" y="211.17" width="18.49" height="18.47" fill="#9c1e2c"/>
<rect x="998.5" y="229.64" width="18.49" height="18.47" fill="#9c1e2c"/>
<rect x="998.5" y="248.11" width="18.49" height="18.47" fill="#9c1e2c"/>
<rect x="998.5" y="266.58" width="18.49" height="18.47" fill="#ddee97"/>
<rect x="998.5" y="285.05" width="18.49" height="18.47" fill="#e9774d"/>
<rect x="998.5" y="303.52" width="18.49" height="18.47" fill="#b0d878"/>
<rect x="1016.99" y="192.7" width="18.49" height="18.47" fill="#449658"/>
<rect x="1016.99" y="211.17" width="18.49" height="18.47" fill="#ddee97"/>
<rect x="1016.99" y="229.64" width="18.49" height="18.47" fill="#7bbb6d"/>
<rect x="1016.99" y="248.11" width="18.49" height="18.47" fill="#7bbb6d"/>
<rect x="1016.99" y="266.58" width="18.49" height="18.47" fill="#9c1e2c"/>
<rect x="1016.99" y="285.05" width="18.49" height="18.47" fill="#2b663c"/>
<rect x="1016.99" y="303.52" width="18.49" height="18.47" fill="#2b663c"/>
<rect x="1035.48" y="192.7" width="18.49" height="18.47" fill="#9c1e2c"/>
<rect x="1035.48" y="211.17" width="18.49" height="18.47" fill="#b0d878"/>
<rect x="1035.48" y="229.64" width="18.49" height="18.47" fill="#b0d878"/>
<rect x="1035.48" y="248.11" width="18.49" height="18.47" fill="#fffde2"/>
<rect x="1035.48" y="266.58" width="18.49" height="18.47" fill="#449658"/>
<rect x="1035.48" y="285.05" width="18.49" height="18.47" fill="#b0d878"/>
<g fill="none" stroke-width="1.25" stroke-opacity="0.8">
<path d="M92.49 285.05V303.52M74 303.52H92.49M110.98 285.05V303.52M166.45 285.05H184.94M184.94 285.05V303.52M221.92 285.05H240.41M388.33 285.05H406.82M480.78 266.58H499.27M480.78 285.05H499.27M499.27 211.17H517.76M591.72 303.52H610.21M1035.48 229.64H1053.97" stroke="#d5f5a7"/>
<path d="M92.49 303.52V321.99M92.49 303.52H110.98M129.47 211.17V229.64M203.43 229.64H221.92M221.92 229.64V248.11M221.92 266.58V285.05M369.84 229.64V248.11M443.8 211.17H462.29M462.29 211.17V229.64M499.27 248.11V266.58M517.76 211.17V229.64M517.76 248.11V266.58M610.21 285.05V303.52M684.17 248.11V266.58M1035.48 248.11H1053.97" stroke="#e8f7c5"/>
<path d="M110.98 192.7V211.17M129.47 192.7V211.17M425.31 229.64V248.11M665.68 211.17V229.64M647.19 266.58H665.68M665.68 266.58V285.05" stroke="#ffb8a1"/>
<path d="M92.49 211.17H110.98M906.05 211.17H924.54" stroke="#e3e3a6"/>
<path d="M110.98 211.17V229.64M369.84 266.58V285.05M425.31 285.05H443.8M499.27 303.52V321.99M517.76 211.17H536.25M517.76 229.64H536.25M536.25 229.64V248.11M554.74 229.64V248.11M554.74 285.05H573.23M628.7 285.05V303.52M702.66 285.05H721.15M1035.48 248.11V266.58" stroke="#daf3c9"/>
<path d="M92.49 229.64H110.98M92.49 248.11H110.98M110.98 248.11V266.58M388.33 248.11H406.82M573.23 303.52V321.99M628.7 266.58V285.05M702.66 248.11H721.15M869.07 248.11V266.58" stroke="#dfeeae"/>
<path d="M110.98 229.64V248.11M110.98 248.11H129.47M129.47 285.05H147.96M129.47 303.52H147.96M258.9 285.05H277.39M388.33 229.64H406.82M443.8 248.11V266.58M628.7 229.64V248.11" stroke="#ffeead"/>
<path d="M92.49 266.58H110.98M425.31 303.52H443.8M517.76 285.05H536.25M554.74 211.17H573.23M554.74 229.64H573.23M554.74 248.11H573.23M554.74 303.52H573.23M628.7 285.05H647.19M628.7 303.52H647.19M702.66 303.52V321.99M702.66 303.52H721.15M961.52 211.17H980.01M961.52 229.64H980.01M1016.99 248.11H1035.48" stroke="#baeeae"/>
<path d="M110.98 266.58V285.05M388.33 248.11V266.58M369.84 266.58H388.33M443.8 303.52V321.99M499.27 229.64V248.11M517.76 229.64V248.11M536.25 192.7V211.17M554.74 192.7V211.17M628.7 303.52V321.99M758.13 229.64V248.11M1016.99 229.64H1035.48" stroke="#d3f4b1"/>
<path d="M92.49 285.05H110.98M388.33 266.58V285.05M388.33 266.58H406.82M480.78 211.17V229.64M480.78 211.17H499.27M480.78 248.11H499.27M480.78 303.52H499.27M517.76 192.7V211.17M517.76 248.11H536.25M517.76 266.58H536.25M628.7 266.58H647.19M721.15 211.17V229.64M702.66 229.64H721.15M721.15 229.64V248.11M721.15 229.64H739.64M776.62 229.64V248.11M776.62 285.05H795.11M980.01 248.11V266.58M1035.48 229.64V248.11" stroke="#c7f2ab"/>
<path d="M110.98 303.52V321.99M147.96 229.64V248.11M203.43 229.64V248.11M203.43 266.58V285.05M203.43 248.11H221.92M203.43 266.58H221.92M258.9 248.11V266.58M277.39 248.11V266.58M277.39 285.05H295.88M369.84 248.11V266.58M351.35 303.52H369.84M499.27 248.11H517.76M591.72 248.11H610.21M610.21 303.52H628.7" stroke="#f3f9cb"/>
<path d="M110.98 211.17H129.47M147.96 248.11H166.45M184.94 211.17H203.43M203.43 285.05H221.92M258.9 248.11H277.39M295.88 211.17V229.64M295.88 285.05V303.52M295.88 303.52V321.99M314.37 211.17V229.64M332.86 266.58V285.05M332.86 285.05V303.52M332.86 211.17H351.35M351.35 211.17V229.64M332.86 266.58H351.35M351.35 266.58V285.05M351.35 285.05V303.52M351.35 229.64H369.84M369.84 285.05V303.52M443.8 266.58V285.05M462.29 229.64V248.11M499.27 266.58H517.76M517.76 303.52V321.99M536.25 248.11H554.74M591.72 229.64V248.11M591.72 229.64H610.21M665.68 285.05H684.17M684.17 285.05V303.52M665.68 303.52H684.17M684.17 248.11H702.66M684.17 266.58H702.66M702.66 266.58V285.05" stroke="#fcc8c3"/>
<path d="M110.98 229.64H129.47M203.43 192.7V211.17M221.92 192.7V211.17M240.41 192.7V211.17M258.9 266.58H277.39M277.39 285.05V303.52M332.86 229.64H351.35M351.35 229.64V248.11M332.86 248.11H351.35M425.31 266.58H443.8M443.8 248.11H462.29M610.21 229.64V248.11M610.21 285.05H628.7M702.66 248.11V266.58M702.66 266.58H721.15" stroke="#fff3c8"/>
<path d="M129.47 229.64V248.11M110.98 266.58H129.47M129.47 266.58V285.05M129.47 303.52V321.99M258.9 285.05V303.52M277.39 266.58V285.05M277.39 248.11H295.88M369.84 303.52V321.99M388.33 211.17V229.64M591.72 248.11V266.58M610.21 229.64H628.7M739.64 303.52H758.13" stroke="#f8f4b0"/>
<path d="M129.47 248.11V266.58M129.47 285.05V303.52M129.47 266.58H147.96M203.43 211.17H221.92M388.33 229.64V248.11M462.29 192.7V211.17M480.78 192.7V211.17M462.29 211.17H480.78M573.23 211.17H591.72M591.72 303.52V321.99M628.7 248.11H647.19" stroke="#ecf2aa"/>
<path d="M110.98 285.05H129.47M110.98 303.52H129.47M129.47 229.64H147.96M129.47 248.11H147.96M166.45 266.58H184.94M184.94 266.58V285.05M166.45 303.52H184.94M184.94 285.05H203.43M184.94 303.52H203.43M369.84 229.64H388.33M369.84 248.11H388.33M499.27 229.64H517.76M610.21 303.52V321.99M813.6 266.58H832.09M924.54 266.58V285.05M1035.48 211.17V229.64" stroke="#e0f7ad"/>
<path d="M147.96 192.7V211.17M147.96 211.17H166.45M258.9 303.52V321.99M332.86 303.52V321.99M425.31 229.64H443.8" stroke="#ffbe9a"/>
<path d="M129.47 211.17H147.96M147.96 211.17V229.64M628.7 211.17H647.19" stroke="#f1e6a3"/>
<path d="M147.96 248.11V266.58M184.94 211.17V229.64M203.43 211.17V229.64M203.43 285.05V303.52M221.92 285.05V303.52M221.92 248.11H240.41M221.92 266.58H240.41M221.92 303.52H240.41M388.33 285.05V303.52M443.8 192.7V211.17M462.29 229.64H480.78M499.27 266.58V285.05M536.25 248.11V266.58M591.72 192.7V211.17M591.72 285.05V303.52M628.7 248.11V266.58M665.68 248.11V266.58M665.68 266.58H684.17M739.64 248.11V266.58M721.15 266.58H739.64M776.62 266.58V285.05M776.62 248.11H795.11M776.62 266.58H795.11M832.09 266.58V285.05M998.5 248.11V266.58M1035.48 211.17H1053.97" stroke="#e9c7a5"/>
<path d="M147.96 266.58V285.05M147.96 285.05V303.52M147.96 303.52V321.99M277.39 229.64V248.11M277.39 229.64H295.88M369.84 303.52H388.33M462.29 248.11V266.58M443.8 266.58H462.29M591.72 211.17V229.64M573.23 229.64H591.72M573.23 248.11H591.72M573.23 303.52H591.72M610.21 248.11H628.7M610.21 266.58H628.7M647.19 248.11H665.68M739.64 285.05H758.13" stroke="#ffc3a8"/>
<path d="M166.45 192.7V211.17M406.82 285.05H425.31M406.82 303.52H425.31" stroke="#ffa595"/>
<path d="M147.96 229.64H166.45M277.39 303.52V321.99M314.37 303.52H332.86M443.8 229.64V248.11" stroke="#ffe8c1"/>
<path d="M147.96 266.58H166.45M147.96 285.05H166.45M147.96 303.52H166.45M277.39 192.7V211.17M258.9 211.17H277.39M277.39 211.17V229.64M258.9 229.64H277.39M277.39 211.17H295.88M314.37 248.11V266.58M295.88 266.58H314.37M295.88 285.05H314.37M295.88 303.52H314.37M314.37 211.17H332.86M314.37 229.64H332.86M314.37 248.11H332.86M351.35 192.7V211.17M332.86 285.05H351.35M351.35 211.17H369.84M462.29 248.11H480.78M536.25 266.58H554.74M536.25 285.05H554.74M591.72 211.17H610.21M665.68 303.52V321.99M665.68 211.17H684.17M684.17 266.58V285.05M684.17 285.05H702.66M739.64 266.58V285.05M739.64 211.17H758.13M758.13 248.11V266.58M739.64 266.58H758.13M758.13 266.58V285.05M776.62 248.11V266.58M758.13 266.58H776.62M998.5 229.64H1016.99M998.5 248.11H1016.99" stroke="#fe98a3"/>
<path d="M166.45 229.64H184.94M499.27 285.05V303.52M628.7 192.7V211.17M665.68 248.11H684.17M887.56 248.11H906.05M998.5 303.52H1016.99" stroke="#f6d8a0"/>
<path d="M184.94 229.64V248.11M166.45 248.11H184.94M369.84 211.17H388.33M406.82 211.17H425.31M462.29 285.05H480.78M536.25 211.17H554.74M610.21 211.17H628.7M813.6 248.11H832.09M998.5 285.05H1016.99" stroke="#ffdaa6"/>
<path d="M184.94 248.11V266.58M184.94 303.52V321.99M184.94 248.11H203.43M203.43 248.11V266.58M184.94 266.58H203.43M203.43 303.52V321.99M240.41 229.64H258.9M240.41 248.11H258.9M277.39 266.58H295.88M462.29 303.52V321.99M462.29 303.52H480.78" stroke="#ecf9b3"/>
<path d="M184.94 229.64H203.43M221.92 248.11V266.58M203.43 303.52H221.92M221.92 303.52V321.99M258.9 211.17V229.64M258.9 229.64V248.11M295.88 248.11V266.58M295.88 266.58V285.05M369.84 211.17V229.64M406.82 229.64H425.31M610.21 211.17V229.64M610.21 248.11V266.58M665.68 192.7V211.17M739.64 229.64H758.13M739.64 248.11H758.13M906.05 266.58H924.54M1016.99 211.17V229.64M998.5 266.58H1016.99M1016.99 266.58V285.05" stroke="#f5c9ab"/>
<path d="M221.92 211.17V229.64M221.92 229.64H240.41M591.72 285.05H610.21M702.66 211.17H721.15M924.54 266.58H943.03" stroke="#f5cd9e"/>
<path d="M221.92 211.17H240.41M295.88 229.64H314.37M425.31 266.58V285.05M443.8 211.17V229.64" stroke="#ffcfbc"/>
<path d="M240.41 266.58H258.9M240.41 285.05H258.9M628.7 211.17V229.64M647.19 211.17H665.68" stroke="#fce8a9"/>
<path d="M258.9 266.58V285.05M258.9 303.52H277.39M425.31 248.11H443.8M628.7 229.64H647.19M647.19 229.64H665.68M850.58 248.11H869.07" stroke="#ffe3a6"/>
<path d="M240.41 303.52H258.9M351.35 303.52V321.99M425.31 211.17V229.64M462.29 285.05V303.52M443.8 303.52H462.29M591.72 266.58H610.21M924.54 248.11H943.03" stroke="#ffcfa4"/>
<path d="M295.88 192.7V211.17M314.37 192.7V211.17M369.84 192.7V211.17M425.31 192.7V211.17M406.82 248.11H425.31M462.29 266.58V285.05M462.29 266.58H480.78M499.27 285.05H517.76M573.23 285.05H591.72M610.21 192.7V211.17M647.19 303.52H665.68M665.68 229.64H684.17M684.17 229.64V248.11M906.05 248.11V266.58" stroke="#ffa99e"/>
<path d="M295.88 229.64V248.11M388.33 211.17H406.82M610.21 266.58V285.05" stroke="#ffc9a1"/>
<path d="M277.39 303.52H295.88M314.37 285.05H332.86M351.35 248.11V266.58M351.35 248.11H369.84M351.35 266.58H369.84M351.35 285.05H369.84M443.8 229.64H462.29" stroke="#fbf9e3"/>
<path d="M295.88 211.17H314.37M499.27 303.52H517.76M536.25 211.17V229.64M536.25 229.64H554.74M573.23 266.58V285.05M665.68 285.05V303.52" stroke="#ffdabe"/>
<path d="M314.37 229.64V248.11M295.88 248.11H314.37M332.86 303.52H351.35M425.31 211.17H443.8M443.8 285.05H462.29M721.15 192.7V211.17M924.54 248.11V266.58" stroke="#ff9e9c"/>
<path d="M388.33 192.7V211.17M406.82 266.58H425.31M591.72 266.58V285.05" stroke="#ffb097"/>
<path d="M369.84 285.05H388.33M517.76 266.58V285.05M536.25 266.58V285.05M536.25 285.05V303.52M517.76 303.52H536.25M536.25 303.52V321.99M554.74 248.11V266.58M536.25 303.52H554.74M573.23 285.05V303.52M684.17 303.52V321.99M702.66 229.64V248.11M702.66 285.05V303.52M684.17 303.52H702.66M721.15 211.17H739.64M758.13 192.7V211.17M758.13 248.11H776.62M1016.99 229.64V248.11M1016.99 248.11V266.58M1016.99 266.58H1035.48" stroke="#dcc3a9"/>
<path d="M406.82 303.52V321.99M425.31 285.05V303.52M425.31 303.52V321.99M443.8 285.05V303.52M943.03 248.11V266.58" stroke="#e8c9a2"/>
<path d="M425.31 248.11V266.58M573.23 266.58H591.72M665.68 229.64V248.11" stroke="#ffd5a3"/>
<path d="M517.76 285.05V303.52M554.74 211.17V229.64" stroke="#e9d5a4"/>
<path d="M647.19 285.05H665.68" stroke="#ffc99c"/>
<path d="M684.17 192.7V211.17M684.17 211.17V229.64M684.17 229.64H702.66M721.15 285.05H739.64M758.13 211.17V229.64M850.58 266.58V285.05M850.58 303.52H869.07M998.5 211.17V229.64M998.5 229.64V248.11M998.5 211.17H1016.99M1035.48 192.7V211.17M1035.48 266.58V285.05" stroke="#cfbda9"/>
<path d="M702.66 192.7V211.17M850.58 211.17V229.64M832.09 229.64H850.58" stroke="#dbc4a3"/>
<path d="M684.17 211.17H702.66M721.15 303.52H739.64M869.07 211.17V229.64M869.07 266.58V285.05M850.58 285.05H869.07M924.54 285.05V303.52M906.05 303.52H924.54M943.03 192.7V211.17M924.54 211.17H943.03M943.03 211.17V229.64M943.03 211.17H961.52M980.01 229.64H998.5M1016.99 192.7V211.17" stroke="#a0e2b0"/>
<path d="M702.66 211.17V229.64M813.6 285.05H832.09M943.03 266.58V285.05M924.54 285.05H943.03M980.01 248.11H998.5M980.01 266.58H998.5M1035.48 285.05H1053.97" stroke="#baecac"/>
<path d="M739.64 285.05V303.52M850.58 266.58H869.07" stroke="#d2e8ae"/>
<path d="M739.64 303.52V321.99M906.05 266.58V285.05M906.05 285.05H924.54M924.54 229.64H943.03M998.5 192.7V211.17M980.01 211.17H998.5M998.5 266.58V285.05M1016.99 211.17H1035.48" stroke="#c6eeb1"/>
<path d="M758.13 285.05V303.52M850.58 248.11V266.58M887.56 192.7V211.17" stroke="#d1deac"/>
<path d="M758.13 303.52V321.99M832.09 248.11V266.58M924.54 229.64V248.11M943.03 229.64V248.11" stroke="#c5e3af"/>
<path d="M776.62 192.7V211.17M776.62 285.05V303.52M776.62 303.52H795.11M832.09 303.52V321.99M869.07 248.11H887.56M887.56 303.52H906.05M961.52 229.64V248.11M943.03 248.11H961.52M943.03 303.52H961.52M961.52 266.58H980.01" stroke="#acddad"/>
<path d="M758.13 211.17H776.62M758.13 229.64H776.62M813.6 285.05V303.52M795.11 303.52H813.6M813.6 303.52V321.99M813.6 303.52H832.09M869.07 266.58H887.56M887.56 285.05H906.05M906.05 285.05V303.52M924.54 192.7V211.17M943.03 285.05V303.52M961.52 192.7V211.17M961.52 211.17V229.64M943.03 266.58H961.52M943.03 285.05H961.52" stroke="#ade8af"/>
<path d="M776.62 211.17V229.64M832.09 285.05V303.52M832.09 248.11H850.58M850.58 285.05V303.52M850.58 211.17H869.07M869.07 285.05V303.52M869.07 211.17H887.56M869.07 229.64H887.56M869.07 285.05H887.56M906.05 303.52V321.99M924.54 303.52V321.99M924.54 303.52H943.03M943.03 229.64H961.52M980.01 266.58V285.05M980.01 285.05H998.5" stroke="#9fd8ae"/>
<path d="M758.13 285.05H776.62M795.11 211.17V229.64M795.11 248.11V266.58M795.11 211.17H813.6M795.11 229.64H813.6M832.09 266.58H850.58M832.09 285.05H850.58M850.58 303.52V321.99M869.07 303.52V321.99M906.05 248.11H924.54M961.52 285.05H980.01M980.01 285.05V303.52M961.52 303.52H980.01M1016.99 285.05H1035.48" stroke="#ceb2a7"/>
<path d="M758.13 303.52H776.62M776.62 303.52V321.99M795.11 192.7V211.17M776.62 211.17H795.11M795.11 248.11H813.6M795.11 266.58H813.6M832.09 192.7V211.17M813.6 211.17H832.09M850.58 192.7V211.17M832.09 303.52H850.58M869.07 192.7V211.17M869.07 303.52H887.56M943.03 303.52V321.99M980.01 303.52V321.99M980.01 303.52H998.5M1016.99 303.52H1035.48" stroke="#9dcdab"/>
<path d="M776.62 229.64H795.11M795.11 229.64V248.11M795.11 266.58V285.05M887.56 229.64H906.05M906.05 229.64V248.11M998.5 303.52V321.99M1016.99 303.52V321.99M1035.48 285.05V303.52" stroke="#b9e1a9"/>
<path d="M832.09 211.17V229.64M832.09 211.17H850.58" stroke="#dab9a0"/>
<path d="M813.6 229.64H832.09M998.5 285.05V303.52M1016.99 285.05V303.52" stroke="#dbc4a2"/>
<path d="M832.09 229.64V248.11M887.56 266.58H906.05" stroke="#dccfa5"/>
<path d="M850.58 229.64V248.11M850.58 229.64H869.07M924.54 211.17V229.64" stroke="#d6dda7"/>
<path d="M869.07 229.64V248.11M906.05 211.17V229.64M906.05 229.64H924.54" stroke="#d5d2a5"/>
<path d="M1035.48 266.58H1053.97" stroke="#cdeeca"/>
</g>
<path d="M74 284.55V304.02M73.5 285.05H92.99M74 303.02V322.49M73.5 321.99H92.99M92.49 192.2V211.67M91.99 192.7H111.48M92.49 210.67V230.14M92.49 229.14V248.61M92.49 247.61V267.08M92.49 266.08V285.55M91.99 321.99H111.48M110.48 192.7H129.97M110.48 321.99H129.97M128.97 192.7H148.46M128.97 321.99H148.46M147.46 192.7H166.95M166.45 210.67V230.14M166.45 229.14V248.61M166.45 247.61V267.08M166.45 266.08V285.55M166.45 284.55V304.02M166.45 303.02V322.49M147.46 321.99H166.95M184.94 192.2V211.67M165.95 211.17H185.44M165.95 192.7H185.44M165.95 321.99H185.44M184.44 192.7H203.93M184.44 321.99H203.93M202.93 192.7H222.42M202.93 321.99H222.42M221.42 192.7H240.91M240.41 210.67V230.14M240.41 229.14V248.61M240.41 247.61V267.08M240.41 266.08V285.55M240.41 284.55V304.02M240.41 303.02V322.49M221.42 321.99H240.91M258.9 192.2V211.67M239.91 211.17H259.4M239.91 192.7H259.4M239.91 321.99H259.4M258.4 192.7H277.89M258.4 321.99H277.89M276.89 192.7H296.38M276.89 321.99H296.38M295.38 192.7H314.87M314.37 266.08V285.55M314.37 284.55V304.02M314.37 303.02V322.49M295.38 321.99H314.87M332.86 192.2V211.67M313.87 192.7H333.36M332.86 210.67V230.14M332.86 229.14V248.61M332.86 247.61V267.08M313.87 266.58H333.36M313.87 321.99H333.36M332.36 192.7H351.85M332.36 321.99H351.85M350.85 192.7H370.34M350.85 321.99H370.34M369.34 192.7H388.83M388.33 303.02V322.49M369.34 321.99H388.83M406.82 192.2V211.67M387.83 192.7H407.32M406.82 210.67V230.14M406.82 229.14V248.61M406.82 247.61V267.08M406.82 266.08V285.55M406.82 284.55V304.02M387.83 303.52H407.32M387.83 321.99H407.32M406.32 192.7H425.81M406.32 321.99H425.81M424.81 192.7H444.3M424.81 321.99H444.3M443.3 192.7H462.79M443.3 321.99H462.79M461.79 192.7H481.28M480.78 229.14V248.61M480.78 247.61V267.08M480.78 266.08V285.55M480.78 284.55V304.02M480.78 303.02V322.49M461.79 321.99H481.28M499.27 192.2V211.67M480.28 192.7H499.77M499.27 210.67V230.14M480.28 229.64H499.77M480.28 321.99H499.77M498.77 192.7H518.26M498.77 321.99H518.26M517.26 192.7H536.75M517.26 321.99H536.75M535.75 192.7H555.24M554.74 266.08V285.55M554.74 284.55V304.02M554.74 303.02V322.49M535.75 321.99H555.24M573.23 192.2V211.67M554.24 192.7H573.73M573.23 210.67V230.14M573.23 229.14V248.61M573.23 247.61V267.08M554.24 266.58H573.73M554.24 321.99H573.73M572.73 192.7H592.22M572.73 321.99H592.22M591.22 192.7H610.71M591.22 321.99H610.71M609.71 192.7H629.2M609.71 321.99H629.2M647.19 192.2V211.67M628.2 192.7H647.69M647.19 210.67V230.14M647.19 229.14V248.61M647.19 247.61V267.08M647.19 266.08V285.55M647.19 284.55V304.02M647.19 303.02V322.49M628.2 321.99H647.69M646.69 192.7H666.18M646.69 321.99H666.18M665.18 192.7H684.67M665.18 321.99H684.67M683.67 192.7H703.16M683.67 321.99H703.16M702.16 192.7H721.65M721.15 247.61V267.08M721.15 266.08V285.55M721.15 284.55V304.02M721.15 303.02V322.49M702.16 321.99H721.65M739.64 192.2V211.67M720.65 192.7H740.14M739.64 210.67V230.14M739.64 229.14V248.61M720.65 248.11H740.14M720.65 321.99H740.14M739.14 192.7H758.63M739.14 321.99H758.63M757.63 192.7H777.12M757.63 321.99H777.12M776.12 192.7H795.61M795.11 284.55V304.02M795.11 303.02V322.49M776.12 321.99H795.61M813.6 192.2V211.67M794.61 192.7H814.1M813.6 210.67V230.14M813.6 229.14V248.61M813.6 247.61V267.08M813.6 266.08V285.55M794.61 285.05H814.1M794.61 321.99H814.1M813.1 192.7H832.59M813.1 321.99H832.59M831.59 192.7H851.08M831.59 321.99H851.08M850.08 192.7H869.57M850.08 321.99H869.57M868.57 192.7H888.06M887.56 210.67V230.14M887.56 229.14V248.61M887.56 247.61V267.08M887.56 266.08V285.55M887.56 284.55V304.02M887.56 303.02V322.49M868.57 321.99H888.06M906.05 192.2V211.67M887.06 211.17H906.55M887.06 192.7H906.55M887.06 321.99H906.55M905.55 192.7H925.04M905.55 321.99H925.04M924.04 192.7H943.53M924.04 321.99H943.53M942.53 192.7H962.02M961.52 247.61V267.08M961.52 266.08V285.55M961.52 284.55V304.02M961.52 303.02V322.49M942.53 321.99H962.02M980.01 192.2V211.67M961.02 192.7H980.51M980.01 210.67V230.14M980.01 229.14V248.61M961.02 248.11H980.51M961.02 321.99H980.51M979.51 192.7H999M979.51 321.99H999M998 192.7H1017.49M998 321.99H1017.49M1016.49 192.7H1035.98M1035.48 303.02V322.49M1016.49 321.99H1035.98M1053.97 192.2V211.67M1034.98 192.7H1054.47M1053.97 210.67V230.14M1053.97 229.14V248.61M1053.97 247.61V267.08M1053.97 266.08V285.55M1053.97 284.55V304.02M1034.98 303.52H1054.47" fill="none" stroke="#000" stroke-width="1.3" stroke-opacity="0.9"/>
<text class="m" x="119.8" y="188.2">Jan</text>
<text class="m" x="198" y="188.2">Feb</text>
<text class="m" x="277.3" y="188.2">Mar</text>
<text class="m" x="357" y="188.2">Apr</text>
<text class="m" x="434" y="188.2">May</text>
<text class="m" x="515" y="188.2">Jun</text>
<text class="m" x="596.2" y="188.2">Jul</text>
<text class="m" x="672" y="188.2">Aug</text>
<text class="m" x="750.8" y="188.2">Sep</text>
<text class="m" x="831.8" y="188.2">Oct</text>
<text class="m" x="909.3" y="188.2">Nov</text>
<text class="m" x="988.2" y="188.2">Dec</text>
<text class="d" x="68.5" y="207.03">Su</text>
<text class="d" x="68.5" y="225.5">Mo</text>
<text class="d" x="68.5" y="243.97">Tu</text>
<text class="d" x="68.5" y="262.44">We</text>
<text class="d" x="68.5" y="280.92">Th</text>
<text class="d" x="68.5" y="299.38">Fr</text>
<text class="d" x="68.5" y="317.86">Sa</text>
<text class="y" transform="translate(33 257.34) rotate(-90)" x="0" y="0">2021</text>
</g>
<g>
<rect x="74" y="466.85" width="18.49" height="18.45" fill="#2b663c"/>
<rect x="92.49" y="356.15" width="18.49" height="18.45" fill="#fadf8f"/>
<rect x="92.49" y="374.6" width="18.49" height="18.45" fill="#2b663c"/>
<rect x="92.49" y="393.05" width="18.49" height="18.45" fill="#fffde2"/>
<rect x="92.49" y="411.5" width="18.49" height="18.45" fill="#9c1e2c"/>
<rect x="92.49" y="429.95" width="18.49" height="18.45" fill="#9c1e2c"/>
<rect x="92.49" y="448.4" width="18.49" height="18.45" fill="#2b663c"/>
<rect x="92.49" y="466.85" width="18.49" height="18.45" fill="#449658"/>
<rect x="110.98" y="356.15" width="18.49" height="18.45" fill="#449658"/>
<rect x="110.98" y="374.6" width="18.49" height="18.45" fill="#2b663c"/>
<rect x="110.98" y="393.05" width="18.49" height="18.45" fill="#b0d878"/>
<rect x="110.98" y="411.5" width="18.49" height="18.45" fill="#e9774d"/>
<rect x="110.98" y="429.95" width="18.49" height="18.45" fill="#9c1e2c"/>
<rect x="110.98" y="448.4" width="18.49" height="18.45" fill="#449658"/>
<rect x="110.98" y="466.85" width="18.49" height="18.45" fill="#2b663c"/>
<rect x="129.47" y="356.15" width="18.49" height="18.45" fill="#f2b06a"/>
<rect x="129.47" y="374.6" width="18.49" height="18.45" fill="#ddee97"/>
<rect x="129.47" y="393.05" width="18.49" height="18.45" fill="#9c1e2c"/>
<rect x="129.47" y="411.5" width="18.49" height="18.45" fill="#cf4431"/>
<rect x="129.47" y="429.95" width="18.49" height="18.45" fill="#9c1e2c"/>
<rect x="129.47" y="448.4" width="18.49" height="18.45" fill="#ddee97"/>
<rect x="129.47" y="466.85" width="18.49" height="18.45" fill="#9c1e2c"/>
<rect x="147.96" y="356.15" width="18.49" height="18.45" fill="#2b663c"/>
<rect x="147.96" y="374.6" width="18.49" height="18.45" fill="#9c1e2c"/>
<rect x="147.96" y="393.05" width="18.49" height="18.45" fill="#9c1e2c"/>
<rect x="147.96" y="411.5" width="18.49" height="18.45" fill="#ddee97"/>
<rect x="147.96" y="429.95" width="18.49" height="18.45" fill="#fadf8f"/>
<rect x="147.96" y="448.4" width="18.49" height="18.45" fill="#9c1e2c"/>
<rect x="147.96" y="466.85" width="18.49" height="18.45" fill="#cf4431"/>
<rect x="166.45" y="356.15" width="18.49" height="18.45" fill="#b0d878"/>
<rect x="166.45" y="374.6" width="18.49" height="18.45" fill="#fffde2"/>
<rect x="166.45" y="393.05" width="18.49" height="18.45" fill="#fffde2"/>
<rect x="166.45" y="411.5" width="18.49" height="18.45" fill="#449658"/>
<rect x="166.45" y="429.95" width="18.49" height="18.45" fill="#fffde2"/>
<rect x="166.45" y="448.4" width="18.49" height="18.45" fill="#9c1e2c"/>
<rect x="166.45" y="466.85" width="18.49" height="18.45" fill="#9c1e2c"/>
<rect x="184.94" y="356.15" width="18.49" height="18.45" fill="#9c1e2c"/>
<rect x="184.94" y="374.6" width="18.49" height="18.45" fill="#fffde2"/>
<rect x="184.94" y="393.05" width="18.49" height="18.45" fill="#e9774d"/>
<rect x="184.94" y="411.5" width="18.49" height="18.45" fill="#ddee97"/>
<rect x="184.94" y="429.95" width="18.49" height="18.45" fill="#9c1e2c"/>
<rect x="184.94" y="448.4" width="18.49" height="18.45" fill="#7bbb6d"/>
<rect x="184.94" y="466.85" width="18.49" height="18.45" fill="#2b663c"/>
<rect x="203.43" y="356.15" width="18.49" height="18.45" fill="#2b663c"/>
<rect x="203.43" y="374.6" width="18.49" height="18.45" fill="#9c1e2c"/>
<rect x="203.43" y="393.05" width="18.49" height="18.45" fill="#b0d878"/>
<rect x="203.43" y="411.5" width="18.49" height="18.45" fill="#9c1e2c"/>
<rect x="203.43" y="429.95" width="18.49" height="18.45" fill="#2b663c"/>
<rect x="203.43" y="448.4" width="18.49" height="18.45" fill="#2b663c"/>
<rect x="203.43" y="466.85" width="18.49" height="18.45" fill="#9c1e2c"/>
<rect x="221.92" y="356.15" width="18.49" height="18.45" fill="#2b663c"/>
<rect x="221.92" y="374.6" width="18.49" height="18.45" fill="#b0d878"/>
<rect x="221.92" y="393.05" width="18.49" height="18.45" fill="#e9774d"/>
<rect x="221.92" y="411.5" width="18.49" height="18.45" fill="#e9774d"/>
<rect x="221.92" y="429.95" width="18.49" height="18.45" fill="#449658"/>
<rect x="221.92" y="448.4" width="18.49" height="18.45" fill="#2b663c"/>
<rect x="221.92" y="466.85" width="18.49" height="18.45" fill="#2b663c"/>
<rect x="240.41" y="356.15" width="18.49" height="18.45" fill="#7bbb6d"/>
<rect x="240.41" y="374.6" width="18.49" height="18.45" fill="#449658"/>
<rect x="240.41" y="393.05" width="18.49" height="18.45" fill="#7bbb6d"/>
<rect x="240.41" y="411.5" width="18.49" height="18.45" fill="#449658"/>
<rect x="240.41" y="429.95" width="18.49" height="18.45" fill="#9c1e2c"/>
<rect x="240.41" y="448.4" width="18.49" height="18.45" fill="#9c1e2c"/>
<rect x="240.41" y="466.85" width="18.49" height="18.45" fill="#ddee97"/>
<rect x="258.9" y="356.15" width="18.49" height="18.45" fill="#449658"/>
<rect x="258.9" y="374.6" width="18.49" height="18.45" fill="#2b663c"/>
<rect x="258.9" y="393.05" width="18.49" height="18.45" fill="#f2b06a"/>
<rect x="258.9" y="411.5" width="18.49" height="18.45" fill="#9c1e2c"/>
<rect x="258.9" y="429.95" width="18.49" height="18.45" fill="#9c1e2c"/>
<rect x="258.9" y="448.4" width="18.49" height="18.45" fill="#449658"/>
<rect x="258.9" y="466.85" width="18.49" height="18.45" fill="#2b663c"/>
<rect x="277.39" y="356.15" width="18.49" height="18.45" fill="#2b663c"/>
<rect x="277.39" y="374.6" width="18.49" height="18.45" fill="#449658"/>
<rect x="277.39" y="393.05" width="18.49" height="18.45" fill="#2b663c"/>
<rect x="277.39" y="411.5" width="18.49" height="18.45" fill="#2b663c"/>
<rect x="277.39" y="429.95" width="18.49" height="18.45" fill="#2b663c"/>
<rect x="277.39" y="448.4" width="18.49" height="18.45" fill="#2b663c"/>
<rect x="277.39" y="466.85" width="18.49" height="18.45" fill="#2b663c"/>
<rect x="295.88" y="356.15" width="18.49" height="18.45" fill="#2b663c"/>
<rect x="295.88" y="374.6" width="18.49" height="18.45" fill="#449658"/>
<rect x="295.88" y="393.05" width="18.49" height="18.45" fill="#449658"/>
<rect x="295.88" y="411.5" width="18.49" height="18.45" fill="#449658"/>
<rect x="295.88" y="429.95" width="18.49" height="18.45" fill="#fffde2"/>
<rect x="295.88" y="448.4" width="18.49" height="18.45" fill="#2b663c"/>
<rect x="295.88" y="466.85" width="18.49" height="18.45" fill="#2b663c"/>
<rect x="314.37" y="356.15" width="18.49" height="18.45" fill="#2b663c"/>
<rect x="314.37" y="374.6" width="18.49" height="18.45" fill="#fadf8f"/>
<rect x="314.37" y="393.05" width="18.49" height="18.45" fill="#449658"/>
<rect x="314.37" y="411.5" width="18.49" height="18.45" fill="#2b663c"/>
<rect x="314.37" y="429.95" width="18.49" height="18.45" fill="#2b663c"/>
<rect x="314.37" y="448.4" width="18.49" height="18.45" fill="#2b663c"/>
<rect x="314.37" y="466.85" width="18.49" height="18.45" fill="#2b663c"/>
<rect x="332.86" y="356.15" width="18.49" height="18.45" fill="#9c1e2c"/>
<rect x="332.86" y="374.6" width="18.49" height="18.45" fill="#2b663c"/>
<rect x="332.86" y="393.05" width="18.49" height="18.45" fill="#7bbb6d"/>
<rect x="332.86" y="411.5" width="18.49" height="18.45" fill="#ddee97"/>
<rect x="332.86" y="429.95" width="18.49" height="18.45" fill="#9c1e2c"/>
<rect x="332.86" y="448.4" width="18.49" height="18.45" fill="#449658"/>
<rect x="332.86" y="466.85" width="18.49" height="18.45" fill="#7bbb6d"/>
<rect x="351.35" y="356.15" width="18.49" height="18.45" fill="#2b663c"/>
<rect x="351.35" y="374.6" width="18.49" height="18.45" fill="#9c1e2c"/>
<rect x="351.35" y="393.05" width="18.49" height="18.45" fill="#7bbb6d"/>
<rect x="351.35" y="411.5" width="18.49" height="18.45" fill="#7bbb6d"/>
<rect x="351.35" y="429.95" width="18.49" height="18.45" fill="#ddee97"/>
<rect x="351.35" y="448.4" width="18.49" height="18.45" fill="#b0d878"/>
<rect x="351.35" y="466.85" width="18.49" height="18.45" fill="#449658"/>
<rect x="369.84" y="356.15" width="18.49" height="18.45" fill="#2b663c"/>
<rect x="369.84" y="374.6" width="18.49" height="18.45" fill="#449658"/>
<rect x="369.84" y="393.05" width="18.49" height="18.45" fill="#7bbb6d"/>
<rect x="369.84" y="411.5" width="18.49" height="18.45" fill="#449658"/>
<rect x="369.84" y="429.95" width="18.49" height="18.45" fill="#e9774d"/>
<rect x="369.84" y="448.4" width="18.49" height="18.45" fill="#fffde2"/>
<rect x="369.84" y="466.85" width="18.49" height="18.45" fill="#449658"/>
<rect x="388.33" y="356.15" width="18.49" height="18.45" fill="#449658"/>
<rect x="388.33" y="374.6" width="18.49" height="18.45" fill="#e9774d"/>
<rect x="388.33" y="393.05" width="18.49" height="18.45" fill="#449658"/>
<rect x="388.33" y="411.5" width="18.49" height="18.45" fill="#7bbb6d"/>
<rect x="388.33" y="429.95" width="18.49" height="18.45" fill="#449658"/>
<rect x="388.33" y="448.4" width="18.49" height="18.45" fill="#ddee97"/>
<rect x="388.33" y="466.85" width="18.49" height="18.45" fill="#ddee97"/>
<rect x="406.82" y="356.15" width="18.49" height="18.45" fill="#7bbb6d"/>
<rect x="406.82" y="374.6" width="18.49" height="18.45" fill="#449658"/>
<rect x="406.82" y="393.05" width="18.49" height="18.45" fill="#ddee97"/>
<rect x="406.82" y="411.5" width="18.49" height="18.45" fill="#ddee97"/>
<rect x="406.82" y="429.95" width="18.49" height="18.45" fill="#449658"/>
<rect x="406.82" y="448.4" width="18.49" height="18.45" fill="#f2b06a"/>
<rect x="406.82" y="466.85" width="18.49" height="18.45" fill="#449658"/>
<rect x="425.31" y="356.15" width="18.49" height="18.45" fill="#449658"/>
<rect x="425.31" y="374.6" width="18.49" height="18.45" fill="#b0d878"/>
<rect x="425.31" y="393.05" width="18.49" height="18.45" fill="#7bbb6d"/>
<rect x="425.31" y="411.5" width="18.49" height="18.45" fill="#ddee97"/>
<rect x="425.31" y="429.95" width="18.49" height="18.45" fill="#7bbb6d"/>
<rect x="425.31" y="448.4" width="18.49" height="18.45" fill="#449658"/>
<rect x="425.31" y="466.85" width="18.49" height="18.45" fill="#449658"/>
<rect x="443.8" y="356.15" width="18.49" height="18.45" fill="#7bbb6d"/>
<rect x="443.8" y="374.6" width="18.49" height="18.45" fill="#449658"/>
<rect x="443.8" y="393.05" width="18.49" height="18.45" fill="#449658"/>
<rect x="443.8" y="411.5" width="18.49" height="18.45" fill="#449658"/>
<rect x="443.8" y="429.95" width="18.49" height="18.45" fill="#9c1e2c"/>
<rect x="443.8" y="448.4" width="18.49" height="18.45" fill="#7bbb6d"/>
<rect x="443.8" y="466.85" width="18.49" height="18.45" fill="#449658"/>
<rect x="462.29" y="356.15" width="18.49" height="18.45" fill="#b0d878"/>
<rect x="462.29" y="374.6" width="18.49" height="18.45" fill="#7bbb6d"/>
<rect x="462.29" y="393.05" width="18.49" height="18.45" fill="#449658"/>
<rect x="462.29" y="411.5" width="18.49" height="18.45" fill="#449658"/>
<rect x="462.29" y="429.95" width="18.49" height="18.45" fill="#7bbb6d"/>
<rect x="462.29" y="448.4" width="18.49" height="18.45" fill="#449658"/>
<rect x="462.29" y="466.85" width="18.49" height="18.45" fill="#449658"/>
<rect x="480.78" y="356.15" width="18.49" height="18.45" fill="#7bbb6d"/>
<rect x="480.78" y="374.6" width="18.49" height="18.45" fill="#449658"/>
<rect x="480.78" y="393.05" width="18.49" height="18.45" fill="#ddee97"/>
<rect x="480.78" y="411.5" width="18.49" height="18.45" fill="#7bbb6d"/>
<rect x="480.78" y="429.95" width="18.49" height="18.45" fill="#449658"/>
<rect x="480.78" y="448.4" width="18.49" height="18.45" fill="#7bbb6d"/>
<rect x="480.78" y="466.85" width="18.49" height="18.45" fill="#ddee97"/>
<rect x="499.27" y="356.15" width="18.49" height="18.45" fill="#b0d878"/>
<rect x="499.27" y="374.6" width="18.49" height="18.45" fill="#ddee97"/>
<rect x="499.27" y="393.05" width="18.49" height="18.45" fill="#7bbb6d"/>
<rect x="499.27" y="411.5" width="18.49" height="18.45" fill="#ddee97"/>
<rect x="499.27" y="429.95" width="18.49" height="18.45" fill="#449658"/>
<rect x="499.27" y="448.4" width="18.49" height="18.45" fill="#b0d878"/>
<rect x="499.27" y="466.85" width="18.49" height="18.45" fill="#449658"/>
<rect x="517.76" y="356.15" width="18.49" height="18.45" fill="#449658"/>
<rect x="517.76" y="374.6" width="18.49" height="18.45" fill="#449658"/>
<rect x="517.76" y="393.05" width="18.49" height="18.45" fill="#b0d878"/>
<rect x="517.76" y="411.5" width="18.49" height="18.45" fill="#fadf8f"/>
<rect x="517.76" y="429.95" width="18.49" height="18.45" fill="#7bbb6d"/>
<rect x="517.76" y="448.4" width="18.49" height="18.45" fill="#7bbb6d"/>
<rect x="517.76" y="466.85" width="18.49" height="18.45" fill="#449658"/>
<rect x="536.25" y="356.15" width="18.49" height="18.45" fill="#449658"/>
<rect x="536.25" y="374.6" width="18.49" height="18.45" fill="#449658"/>
<rect x="536.25" y="393.05" width="18.49" height="18.45" fill="#449658"/>
<rect x="536.25" y="411.5" width="18.49" height="18.45" fill="#7bbb6d"/>
<rect x="536.25" y="429.95" width="18.49" height="18.45" fill="#7bbb6d"/>
<rect x="536.25" y="448.4" width="18.49" height="18.45" fill="#449658"/>
<rect x="536.25" y="466.85" width="18.49" height="18.45" fill="#2b663c"/>
<rect x="554.74" y="356.15" width="18.49" height="18.45" fill="#fadf8f"/>
<rect x="554.74" y="374.6" width="18.49" height="18.45" fill="#9c1e2c"/>
<rect x="554.74" y="393.05" width="18.49" height="18.45" fill="#e9774d"/>
<rect x="554.74" y="411.5" width="18.49" height="18.45" fill="#9c1e2c"/>
<rect x="554.74" y="429.95" width="18.49" height="18.45" fill="#449658"/>
<rect x="554.74" y="448.4" width="18.49" height="18.45" fill="#449658"/>
<rect x="554.74" y="466.85" width="18.49" height="18.45" fill="#b0d878"/>
<rect x="573.23" y="356.15" width="18.49" height="18.45" fill="#7bbb6d"/>
<rect x="573.23" y="374.6" width="18.49" height="18.45" fill="#7bbb6d"/>
<rect x="573.23" y="393.05" width="18.49" height="18.45" fill="#fffde2"/>
<rect x="573.23" y="411.5" width="18.49" height="18.45" fill="#7bbb6d"/>
<rect x="573.23" y="429.95" width="18.49" height="18.45" fill="#9c1e2c"/>
<rect x="573.23" y="448.4" width="18.49" height="18.45" fill="#449658"/>
<rect x="573.23" y="466.85" width="18.49" height="18.45" fill="#449658"/>
<rect x="591.72" y="356.15" width="18.49" height="18.45" fill="#449658"/>
<rect x="591.72" y="374.6" width="18.49" height="18.45" fill="#b0d878"/>
<rect x="591.72" y="393.05" width="18.49" height="18.45" fill="#9c1e2c"/>
<rect x="591.72" y="411.5" width="18.49" height="18.45" fill="#449658"/>
<rect x="591.72" y="429.95" width="18.49" height="18.45" fill="#7bbb6d"/>
<rect x="591.72" y="448.4" width="18.49" height="18.45" fill="#2b663c"/>
<rect x="591.72" y="466.85" width="18.49" height="18.45" fill="#2b663c"/>
<rect x="610.21" y="356.15" width="18.49" height="18.45" fill="#449658"/>
<rect x="610.21" y="374.6" width="18.49" height="18.45" fill="#449658"/>
<rect x="610.21" y="393.05" width="18.49" height="18.45" fill="#2b663c"/>
<rect x="610.21" y="411.5" width="18.49" height="18.45" fill="#7bbb6d"/>
<rect x="610.21" y="429.95" width="18.49" height="18.45" fill="#449658"/>
<rect x="610.21" y="448.4" width="18.49" height="18.45" fill="#449658"/>
<rect x="610.21" y="466.85" width="18.49" height="18.45" fill="#449658"/>
<rect x="628.7" y="356.15" width="18.49" height="18.45" fill="#449658"/>
<rect x="628.7" y="374.6" width="18.49" height="18.45" fill="#449658"/>
<rect x="628.7" y="393.05" width="18.49" height="18.45" fill="#449658"/>
<rect x="628.7" y="411.5" width="18.49" height="18.45" fill="#449658"/>
<rect x="628.7" y="429.95" width="18.49" height="18.45" fill="#449658"/>
<rect x="628.7" y="448.4" width="18.49" height="18.45" fill="#7bbb6d"/>
<rect x="628.7" y="466.85" width="18.49" height="18.45" fill="#449658"/>
<rect x="647.19" y="356.15" width="18.49" height="18.45" fill="#449658"/>
<rect x="647.19" y="374.6" width="18.49" height="18.45" fill="#449658"/>
<rect x="647.19" y="393.05" width="18.49" height="18.45" fill="#fffde2"/>
<rect x="647.19" y="411.5" width="18.49" height="18.45" fill="#7bbb6d"/>
<rect x="647.19" y="429.95" width="18.49" height="18.45" fill="#9c1e2c"/>
<rect x="647.19" y="448.4" width="18.49" height="18.45" fill="#2b663c"/>
<rect x="647.19" y="466.85" width="18.49" height="18.45" fill="#7bbb6d"/>
<rect x="665.68" y="356.15" width="18.49" height="18.45" fill="#449658"/>
<rect x="665.68" y="374.6" width="18.49" height="18.45" fill="#b0d878"/>
<rect x="665.68" y="393.05" width="18.49" height="18.45" fill="#449658"/>
<rect x="665.68" y="411.5" width="18.49" height="18.45" fill="#7bbb6d"/>
<rect x="665.68" y="429.95" width="18.49" height="18.45" fill="#449658"/>
<rect x="665.68" y="448.4" width="18.49" height="18.45" fill="#449658"/>
<rect x="665.68" y="466.85" width="18.49" height="18.45" fill="#449658"/>
<rect x="684.17" y="356.15" width="18.49" height="18.45" fill="#449658"/>
<rect x="684.17" y="374.6" width="18.49" height="18.45" fill="#449658"/>
<rect x="684.17" y="393.05" width="18.49" height="18.45" fill="#449658"/>
<rect x="684.17" y="411.5" width="18.49" height="18.45" fill="#b0d878"/>
<rect x="684.17" y="429.95" width="18.49" height="18.45" fill="#449658"/>
<rect x="684.17" y="448.4" width="18.49" height="18.45" fill="#7bbb6d"/>
<rect x="684.17" y="466.85" width="18.49" height="18.45" fill="#2b663c"/>
<rect x="702.66" y="356.15" width="18.49" height="18.45" fill="#2b663c"/>
<rect x="702.66" y="374.6" width="18.49" height="18.45" fill="#b0d878"/>
<rect x="702.66" y="393.05" width="18.49" height="18.45" fill="#449658"/>
<rect x="702.66" y="411.5" width="18.49" height="18.45" fill="#449658"/>
<rect x="702.66" y="429.95" width="18.49" height="18.45" fill="#7bbb6d"/>
<rect x="702.66" y="448.4" width="18.49" height="18.45" fill="#449658"/>
<rect x="702.66" y="466.85" width="18.49" height="18.45" fill="#9c1e2c"/>
<rect x="721.15" y="356.15" width="18.49" height="18.45" fill="#449658"/>
<rect x="721.15" y="374.6" width="18.49" height="18.45" fill="#449658"/>
<rect x="721.15" y="393.05" width="18.49" height="18.45" fill="#449658"/>
<rect x="721.15" y="411.5" width="18.49" height="18.45" fill="#2b663c"/>
<rect x="721.15" y="429.95" width="18.49" height="18.45" fill="#2b663c"/>
<rect x="721.15" y="448.4" width="18.49" height="18.45" fill="#2b663c"/>
<rect x="721.15" y="466.85" width="18.49" height="18.45" fill="#449658"/>
<rect x="739.64" y="356.15" width="18.49" height="18.45" fill="#7bbb6d"/>
<rect x="739.64" y="374.6" width="18.49" height="18.45" fill="#7bbb6d"/>
<rect x="739.64" y="393.05" width="18.49" height="18.45" fill="#b0d878"/>
<rect x="739.64" y="411.5" width="18.49" height="18.45" fill="#449658"/>
<rect x="739.64" y="429.95" width="18.49" height="18.45" fill="#9c1e2c"/>
<rect x="739.64" y="448.4" width="18.49" height="18.45" fill="#9c1e2c"/>
<rect x="739.64" y="466.85" width="18.49" height="18.45" fill="#2b663c"/>
<rect x="758.13" y="356.15" width="18.49" height="18.45" fill="#2b663c"/>
<rect x="758.13" y="374.6" width="18.49" height="18.45" fill="#fffde2"/>
<rect x="758.13" y="393.05" width="18.49" height="18.45" fill="#9c1e2c"/>
<rect x="758.13" y="411.5" width="18.49" height="18.45" fill="#2b663c"/>
<rect x="758.13" y="429.95" width="18.49" height="18.45" fill="#2b663c"/>
<rect x="758.13" y="448.4" width="18.49" height="18.45" fill="#2b663c"/>
<rect x="758.13" y="466.85" width="18.49" height="18.45" fill="#449658"/>
<rect x="776.62" y="356.15" width="18.49" height="18.45" fill="#2b663c"/>
<rect x="776.62" y="374.6" width="18.49" height="18.45" fill="#449658"/>
<rect x="776.62" y="393.05" width="18.49" height="18.45" fill="#2b663c"/>
<rect x="776.62" y="411.5" width="18.49" height="18.45" fill="#449658"/>
<rect x="776.62" y="429.95" width="18.49" height="18.45" fill="#449658"/>
<rect x="776.62" y="448.4" width="18.49" height="18.45" fill="#2b663c"/>
<rect x="776.62" y="466.85" width="18.49" height="18.45" fill="#449658"/>
<rect x="795.11" y="356.15" width="18.49" height="18.45" fill="#449658"/>
<rect x="795.11" y="374.6" width="18.49" height="18.45" fill="#449658"/>
<rect x="795.11" y="393.05" width="18.49" height="18.45" fill="#449658"/>
<rect x="795.11" y="411.5" width="18.49" height="18.45" fill="#7bbb6d"/>
<rect x="795.11" y="429.95" width="18.49" height="18.45" fill="#2b663c"/>
<rect x="795.11" y="448.4" width="18.49" height="18.45" fill="#7bbb6d"/>
<rect x="795.11" y="466.85" width="18.49" height="18.45" fill="#e9774d"/>
<rect x="813.6" y="356.15" width="18.49" height="18.45" fill="#f2b06a"/>
<rect x="813.6" y="374.6" width="18.49" height="18.45" fill="#2b663c"/>
<rect x="813.6" y="393.05" width="18.49" height="18.45" fill="#2b663c"/>
<rect x="813.6" y="411.5" width="18.49" height="18.45" fill="#2b663c"/>
<rect x="813.6" y="429.95" width="18.49" height="18.45" fill="#2b663c"/>
<rect x="813.6" y="448.4" width="18.49" height="18.45" fill="#449658"/>
<rect x="813.6" y="466.85" width="18.49" height="18.45" fill="#449658"/>
<rect x="832.09" y="356.15" width="18.49" height="18.45" fill="#449658"/>
<rect x="832.09" y="374.6" width="18.49" height="18.45" fill="#fffde2"/>
<rect x="832.09" y="393.05" width="18.49" height="18.45" fill="#7bbb6d"/>
<rect x="832.09" y="411.5" width="18.49" height="18.45" fill="#449658"/>
<rect x="832.09" y="429.95" width="18.49" height="18.45" fill="#2b663c"/>
<rect x="832.09" y="448.4" width="18.49" height="18.45" fill="#449658"/>
<rect x="832.09" y="466.85" width="18.49" height="18.45" fill="#2b663c"/>
<rect x="850.58" y="356.15" width="18.49" height="18.45" fill="#2b663c"/>
<rect x="850.58" y="374.6" width="18.49" height="18.45" fill="#9c1e2c"/>
<rect x="850.58" y="393.05" width="18.49" height="18.45" fill="#449658"/>
<rect x="850.58" y="411.5" width="18.49" height="18.45" fill="#2b663c"/>
<rect x="850.58" y="429.95" width="18.49" height="18.45" fill="#449658"/>
<rect x="850.58" y="448.4" width="18.49" height="18.45" fill="#2b663c"/>
<rect x="850.58" y="466.85" width="18.49" height="18.45" fill="#2b663c"/>
<rect x="869.07" y="356.15" width="18.49" height="18.45" fill="#2b663c"/>
<rect x="869.07" y="374.6" width="18.49" height="18.45" fill="#2b663c"/>
<rect x="869.07" y="393.05" width="18.49" height="18.45" fill="#2b663c"/>
<rect x="869.07" y="411.5" width="18.49" height="18.45" fill="#449658"/>
<rect x="869.07" y="429.95" width="18.49" height="18.45" fill="#449658"/>
<rect x="869.07" y="448.4" width="18.49" height="18.45" fill="#2b663c"/>
<rect x="869.07" y="466.85" width="18.49" height="18.45" fill="#449658"/>
<rect x="887.56" y="356.15" width="18.49" height="18.45" fill="#449658"/>
<rect x="887.56" y="374.6" width="18.49" height="18.45" fill="#449658"/>
<rect x="887.56" y="393.05" width="18.49" height="18.45" fill="#7bbb6d"/>
<rect x="887.56" y="411.5" width="18.49" height="18.45" fill="#449658"/>
<rect x="887.56" y="429.95" width="18.49" height="18.45" fill="#9c1e2c"/>
<rect x="887.56" y="448.4" width="18.49" height="18.45" fill="#2b663c"/>
<rect x="887.56" y="466.85" width="18.49" height="18.45" fill="#2b663c"/>
<rect x="906.05" y="356.15" width="18.49" height="18.45" fill="#449658"/>
<rect x="906.05" y="374.6" width="18.49" height="18.45" fill="#449658"/>
<rect x="906.05" y="393.05" width="18.49" height="18.45" fill="#2b663c"/>
<rect x="906.05" y="411.5" width="18.49" height="18.45" fill="#449658"/>
<rect x="906.05" y="429.95" width="18.49" height="18.45" fill="#2b663c"/>
<rect x="906.05" y="448.4" width="18.49" height="18.45" fill="#2b663c"/>
<rect x="906.05" y="466.85" width="18.49" height="18.45" fill="#2b663c"/>
<rect x="924.54" y="356.15" width="18.49" height="18.45" fill="#2b663c"/>
<rect x="924.54" y="374.6" width="18.49" height="18.45" fill="#449658"/>
<rect x="924.54" y="393.05" width="18.49" height="18.45" fill="#449658"/>
<rect x="924.54" y="411.5" width="18.49" height="18.45" fill="#7bbb6d"/>
<rect x="924.54" y="429.95" width="18.49" height="18.45" fill="#449658"/>
<rect x="924.54" y="448.4" width="18.49" height="18.45" fill="#449658"/>
<rect x="924.54" y="466.85" width="18.49" height="18.45" fill="#f2b06a"/>
<rect x="943.03" y="356.15" width="18.49" height="18.45" fill="#f2b06a"/>
<rect x="943.03" y="374.6" width="18.49" height="18.45" fill="#b0d878"/>
<rect x="943.03" y="393.05" width="18.49" height="18.45" fill="#449658"/>
<rect x="943.03" y="411.5" width="18.49" height="18.45" fill="#449658"/>
<rect x="943.03" y="429.95" width="18.49" height="18.45" fill="#449658"/>
<rect x="943.03" y="448.4" width="18.49" height="18.45" fill="#449658"/>
<rect x="943.03" y="466.85" width="18.49" height="18.45" fill="#449658"/>
<rect x="961.52" y="356.15" width="18.49" height="18.45" fill="#449658"/>
<rect x="961.52" y="374.6" width="18.49" height="18.45" fill="#449658"/>
<rect x="961.52" y="393.05" width="18.49" height="18.45" fill="#449658"/>
<rect x="961.52" y="411.5" width="18.49" height="18.45" fill="#449658"/>
<rect x="961.52" y="429.95" width="18.49" height="18.45" fill="#449658"/>
<rect x="961.52" y="448.4" width="18.49" height="18.45" fill="#7bbb6d"/>
<rect x="961.52" y="466.85" width="18.49" height="18.45" fill="#449658"/>
<rect x="980.01" y="356.15" width="18.49" height="18.45" fill="#449658"/>
<rect x="980.01" y="374.6" width="18.49" height="18.45" fill="#449658"/>
<rect x="980.01" y="393.05" width="18.49" height="18.45" fill="#7bbb6d"/>
<rect x="980.01" y="411.5" width="18.49" height="18.45" fill="#b0d878"/>
<rect x="980.01" y="429.95" width="18.49" height="18.45" fill="#ddee97"/>
<rect x="980.01" y="448.4" width="18.49" height="18.45" fill="#b0d878"/>
<rect x="980.01" y="466.85" width="18.49" height="18.45" fill="#2b663c"/>
<rect x="998.5" y="356.15" width="18.49" height="18.45" fill="#2b663c"/>
<rect x="998.5" y="374.6" width="18.49" height="18.45" fill="#2b663c"/>
<rect x="998.5" y="393.05" width="18.49" height="18.45" fill="#449658"/>
<rect x="998.5" y="411.5" width="18.49" height="18.45" fill="#449658"/>
<rect x="998.5" y="429.95" width="18.49" height="18.45" fill="#449658"/>
<rect x="998.5" y="448.4" width="18.49" height="18.45" fill="#449658"/>
<rect x="998.5" y="466.85" width="18.49" height="18.45" fill="#2b663c"/>
<rect x="1016.99" y="356.15" width="18.49" height="18.45" fill="#2b663c"/>
<rect x="1016.99" y="374.6" width="18.49" height="18.45" fill="#2b663c"/>
<rect x="1016.99" y="393.05" width="18.49" height="18.45" fill="#2b663c"/>
<rect x="1016.99" y="411.5" width="18.49" height="18.45" fill="#2b663c"/>
<rect x="1016.99" y="429.95" width="18.49" height="18.45" fill="#2b663c"/>
<rect x="1016.99" y="448.4" width="18.49" height="18.45" fill="#449658"/>
<rect x="1016.99" y="466.85" width="18.49" height="18.45" fill="#2b663c"/>
<rect x="1035.48" y="356.15" width="18.49" height="18.45" fill="#2b663c"/>
<rect x="1035.48" y="374.6" width="18.49" height="18.45" fill="#449658"/>
<rect x="1035.48" y="393.05" width="18.49" height="18.45" fill="#449658"/>
<rect x="1035.48" y="411.5" width="18.49" height="18.45" fill="#2b663c"/>
<rect x="1035.48" y="429.95" width="18.49" height="18.45" fill="#2b663c"/>
<rect x="1035.48" y="448.4" width="18.49" height="18.45" fill="#2b663c"/>
<rect x="1035.48" y="466.85" width="18.49" height="18.45" fill="#2b663c"/>
<g fill="none" stroke-width="1.25" stroke-opacity="0.8">
<path d="M92.49 466.85V485.3M110.98 448.4V466.85M92.49 466.85H110.98M110.98 466.85V485.3M110.98 374.6H129.47M110.98 466.85H129.47M221.92 429.95V448.4M221.92 448.4H240.41M277.39 356.15V374.6M258.9 374.6H277.39M277.39 374.6V393.05M277.39 448.4V466.85M258.9 466.85H277.39M277.39 374.6H295.88M277.39 393.05H295.88M295.88 393.05V411.5M295.88 411.5V429.95M295.88 374.6H314.37M314.37 411.5V429.95M314.37 411.5H332.86M332.86 448.4V466.85M388.33 356.15V374.6M369.84 374.6H388.33M536.25 466.85V485.3M536.25 466.85H554.74M591.72 448.4V466.85M591.72 466.85V485.3M610.21 448.4V466.85M610.21 466.85V485.3M610.21 393.05H628.7M628.7 393.05V411.5M665.68 448.4V466.85M684.17 466.85V485.3M702.66 356.15V374.6M721.15 356.15V374.6M721.15 411.5V429.95M721.15 411.5H739.64M721.15 466.85H739.64M739.64 466.85V485.3M758.13 411.5V429.95M758.13 466.85V485.3M776.62 411.5V429.95M776.62 429.95V448.4M758.13 466.85H776.62M795.11 356.15V374.6M776.62 374.6H795.11M776.62 393.05H795.11M795.11 393.05V411.5M776.62 411.5H795.11M795.11 429.95V448.4M776.62 448.4H795.11M776.62 466.85H795.11M832.09 411.5V429.95M813.6 448.4H832.09M832.09 466.85V485.3M850.58 356.15V374.6M850.58 411.5V429.95M832.09 429.95H850.58M850.58 429.95V448.4M832.09 448.4H850.58M850.58 448.4V466.85M832.09 466.85H850.58M869.07 393.05V411.5M850.58 411.5H869.07M869.07 411.5V429.95M850.58 429.95H869.07M850.58 448.4H869.07M869.07 466.85V485.3M887.56 356.15V374.6M887.56 374.6V393.05M869.07 411.5H887.56M869.07 448.4H887.56M869.07 466.85H887.56M924.54 356.15V374.6M906.05 393.05H924.54M924.54 393.05V411.5M906.05 411.5H924.54M906.05 429.95H924.54M924.54 429.95V448.4M924.54 448.4V466.85M924.54 374.6H943.03M980.01 466.85V485.3M998.5 356.15V374.6M998.5 374.6V393.05M998.5 393.05H1016.99M1016.99 393.05V411.5M1016.99 411.5V429.95M1016.99 429.95V448.4M998.5 466.85H1016.99M1035.48 374.6V393.05M1035.48 393.05V411.5M1016.99 448.4H1035.48M1035.48 448.4V466.85M1016.99 466.85H1035.48M1035.48 374.6H1053.97M1035.48 411.5H1053.97" stroke="#9fd8ae"/>
<path d="M110.98 356.15V374.6M314.37 374.6V393.05M314.37 393.05H332.86M554.74 356.15V374.6" stroke="#d2e8ae"/>
<path d="M92.49 374.6H110.98M314.37 374.6H332.86" stroke="#d1deac"/>
<path d="M110.98 374.6V393.05M221.92 356.15V374.6M203.43 448.4H221.92M221.92 448.4V466.85M221.92 466.85H240.41M277.39 466.85V485.3M295.88 356.15V374.6M277.39 411.5H295.88M277.39 429.95H295.88M277.39 448.4H295.88M295.88 448.4V466.85M277.39 466.85H295.88M295.88 466.85V485.3M314.37 356.15V374.6M295.88 466.85H314.37M314.37 429.95H332.86M314.37 466.85H332.86M369.84 356.15V374.6M591.72 466.85H610.21M721.15 448.4H739.64M776.62 356.15V374.6M758.13 429.95H776.62M758.13 448.4H776.62M776.62 448.4V466.85M813.6 393.05H832.09M813.6 411.5H832.09M813.6 429.95H832.09M832.09 429.95V448.4M850.58 466.85V485.3M869.07 356.15V374.6M869.07 448.4V466.85M850.58 466.85H869.07M869.07 374.6H887.56M869.07 393.05H887.56M906.05 448.4V466.85M887.56 466.85H906.05M906.05 466.85V485.3M906.05 448.4H924.54M906.05 466.85H924.54M998.5 466.85V485.3M1016.99 356.15V374.6M998.5 374.6H1016.99M1016.99 374.6V393.05M1016.99 466.85V485.3M1035.48 356.15V374.6M1016.99 374.6H1035.48M1016.99 393.05H1035.48M1016.99 411.5H1035.48M1035.48 411.5V429.95M1016.99 429.95H1035.48M1035.48 429.95V448.4M1035.48 466.85V485.3M1035.48 429.95H1053.97M1035.48 448.4H1053.97M1035.48 466.85H1053.97" stroke="#9dcdab"/>
<path d="M92.49 393.05H110.98M295.88 429.95V448.4M314.37 429.95V448.4M295.88 448.4H314.37M758.13 374.6H776.62M832.09 374.6V393.05" stroke="#cce3c7"/>
<path d="M110.98 393.05V411.5M166.45 374.6H184.94M369.84 448.4V466.85" stroke="#e8f7c5"/>
<path d="M92.49 411.5H110.98M166.45 374.6V393.05M184.94 429.95V448.4M166.45 448.4H184.94M184.94 374.6H203.43M203.43 374.6V393.05M591.72 393.05V411.5M758.13 393.05H776.62M850.58 374.6V393.05" stroke="#fcc8c3"/>
<path d="M110.98 411.5V429.95M110.98 429.95H129.47M221.92 411.5V429.95M554.74 393.05H573.23M554.74 411.5H573.23" stroke="#ffa99e"/>
<path d="M92.49 429.95H110.98M110.98 429.95V448.4M129.47 429.95V448.4M147.96 393.05V411.5M147.96 393.05H166.45M166.45 466.85H184.94M258.9 429.95V448.4M240.41 448.4H258.9M258.9 429.95H277.39M739.64 448.4H758.13" stroke="#fe98a3"/>
<path d="M92.49 448.4H110.98M129.47 466.85V485.3M147.96 374.6H166.45M184.94 466.85V485.3M203.43 356.15V374.6M203.43 429.95V448.4M203.43 466.85V485.3M203.43 374.6H221.92M203.43 429.95H221.92M203.43 466.85H221.92M221.92 466.85V485.3M277.39 411.5V429.95M277.39 429.95V448.4M351.35 356.15V374.6M332.86 374.6H351.35M351.35 374.6V393.05M351.35 374.6H369.84M610.21 393.05V411.5M647.19 448.4H665.68M702.66 466.85V485.3M739.64 429.95V448.4M739.64 448.4V466.85M758.13 429.95V448.4M758.13 448.4V466.85M739.64 466.85H758.13M776.62 393.05V411.5M758.13 411.5H776.62M850.58 374.6H869.07M869.07 374.6V393.05M906.05 429.95V448.4M887.56 448.4H906.05" stroke="#ceb2a7"/>
<path d="M129.47 356.15V374.6M406.82 448.4H425.31M425.31 448.4V466.85M406.82 466.85H425.31M832.09 356.15V374.6M924.54 466.85H943.03M943.03 466.85V485.3M961.52 356.15V374.6" stroke="#d6dda7"/>
<path d="M129.47 374.6V393.05M258.9 466.85V485.3" stroke="#c5e3af"/>
<path d="M110.98 393.05H129.47M166.45 356.15V374.6M221.92 374.6H240.41M702.66 374.6H721.15M980.01 466.85H998.5" stroke="#b9e1a9"/>
<path d="M129.47 393.05V411.5M221.92 374.6V393.05M203.43 393.05H221.92M203.43 411.5H221.92M591.72 393.05H610.21M758.13 393.05V411.5" stroke="#e9c7a5"/>
<path d="M110.98 411.5H129.47M203.43 393.05V411.5M221.92 393.05V411.5M221.92 393.05H240.41" stroke="#f6d8a0"/>
<path d="M129.47 411.5V429.95" stroke="#ffb097"/>
<path d="M110.98 448.4H129.47M258.9 411.5V429.95M240.41 429.95H258.9M258.9 448.4V466.85M258.9 448.4H277.39M332.86 448.4H351.35M369.84 374.6V393.05M443.8 429.95H462.29M554.74 374.6V393.05M554.74 429.95H573.23M573.23 448.4H591.72M591.72 411.5H610.21M665.68 429.95V448.4M702.66 466.85H721.15M739.64 429.95H758.13M850.58 393.05H869.07M887.56 429.95H906.05" stroke="#cfbda9"/>
<path d="M129.47 448.4V466.85M184.94 411.5V429.95M388.33 466.85V485.3M388.33 448.4H406.82M406.82 393.05H425.31M406.82 429.95H425.31M443.8 411.5V429.95M480.78 393.05V411.5M480.78 393.05H499.27M499.27 466.85V485.3M517.76 374.6V393.05M499.27 429.95H517.76M980.01 429.95V448.4M998.5 429.95V448.4" stroke="#c6eeb1"/>
<path d="M147.96 356.15V374.6M258.9 393.05H277.39M277.39 393.05V411.5M813.6 374.6H832.09M924.54 466.85V485.3M943.03 356.15V374.6" stroke="#d5d2a5"/>
<path d="M129.47 374.6H147.96" stroke="#fce8a9"/>
<path d="M147.96 374.6V393.05M129.47 393.05H147.96M129.47 448.4H147.96M147.96 448.4V466.85M129.47 466.85H147.96M147.96 411.5H166.45M203.43 411.5V429.95M184.94 429.95H203.43M240.41 466.85H258.9M332.86 429.95H351.35M351.35 429.95V448.4" stroke="#f5c9ab"/>
<path d="M129.47 411.5H147.96M129.47 429.95H147.96M147.96 466.85V485.3M147.96 466.85H166.45" stroke="#ff9e9c"/>
<path d="M147.96 411.5V429.95" stroke="#ffcfa4"/>
<path d="M147.96 429.95V448.4M147.96 448.4H166.45M554.74 374.6H573.23" stroke="#ffc3a8"/>
<path d="M147.96 429.95H166.45M517.76 411.5V429.95" stroke="#f8f4b0"/>
<path d="M184.94 393.05V411.5M184.94 393.05H203.43M369.84 448.4H388.33" stroke="#ffdabe"/>
<path d="M166.45 411.5H184.94M166.45 429.95H184.94M295.88 429.95H314.37M369.84 466.85H388.33M647.19 393.05H665.68M665.68 393.05V411.5M776.62 374.6V393.05M832.09 374.6H850.58" stroke="#cdeeca"/>
<path d="M184.94 448.4V466.85M184.94 448.4H203.43M351.35 393.05H369.84M443.8 429.95V448.4M462.29 429.95V448.4M443.8 448.4H462.29M554.74 411.5V429.95M573.23 429.95H591.72M591.72 429.95V448.4M647.19 429.95H665.68" stroke="#dcc3a9"/>
<path d="M184.94 411.5H203.43M369.84 429.95V448.4" stroke="#ffdaa6"/>
<path d="M203.43 448.4V466.85M184.94 466.85H203.43M240.41 356.15V374.6M332.86 466.85V485.3M332.86 393.05H351.35M591.72 448.4H610.21M610.21 411.5H628.7M647.19 466.85H665.68M684.17 466.85H702.66M758.13 356.15V374.6M795.11 448.4V466.85M795.11 429.95H813.6M795.11 448.4H813.6M832.09 393.05V411.5M906.05 393.05V411.5" stroke="#acddad"/>
<path d="M240.41 374.6V393.05M351.35 448.4V466.85M351.35 466.85H369.84M425.31 374.6V393.05M425.31 374.6H443.8M443.8 374.6V393.05M517.76 356.15V374.6M499.27 448.4H517.76M499.27 466.85H517.76M517.76 393.05H536.25M536.25 393.05V411.5M554.74 466.85H573.23M573.23 466.85V485.3M591.72 374.6H610.21M610.21 374.6V393.05M665.68 374.6V393.05M665.68 374.6H684.17M684.17 374.6V393.05M665.68 393.05H684.17M702.66 374.6V393.05M684.17 411.5H702.66M702.66 411.5V429.95M684.17 429.95H702.66M721.15 374.6V393.05M702.66 393.05H721.15M739.64 411.5H758.13M943.03 374.6V393.05M961.52 374.6V393.05M943.03 393.05H961.52M998.5 411.5V429.95M998.5 448.4V466.85" stroke="#baecac"/>
<path d="M221.92 411.5H240.41" stroke="#ffbb99"/>
<path d="M221.92 429.95H240.41M388.33 374.6V393.05M369.84 429.95H388.33M388.33 429.95V448.4M388.33 374.6H406.82M388.33 393.05H406.82M554.74 393.05V411.5M813.6 466.85V485.3" stroke="#dccfa5"/>
<path d="M240.41 374.6H258.9M240.41 411.5H258.9M332.86 466.85H351.35M351.35 466.85V485.3M369.84 411.5V429.95M369.84 393.05H388.33M388.33 393.05V411.5M369.84 411.5H388.33M388.33 411.5V429.95M388.33 411.5H406.82M388.33 429.95H406.82M425.31 356.15V374.6M406.82 374.6H425.31M425.31 429.95V448.4M443.8 356.15V374.6M443.8 393.05V411.5M425.31 448.4H443.8M443.8 448.4V466.85M443.8 374.6H462.29M462.29 374.6V393.05M462.29 448.4V466.85M443.8 466.85H462.29M480.78 374.6V393.05M462.29 393.05H480.78M462.29 429.95H480.78M462.29 448.4H480.78M480.78 374.6H499.27M480.78 429.95H499.27M480.78 448.4H499.27M517.76 429.95V448.4M536.25 448.4V466.85M517.76 466.85H536.25M536.25 411.5H554.74M554.74 429.95V448.4M536.25 448.4H554.74M591.72 356.15V374.6M591.72 411.5V429.95M610.21 411.5V429.95M591.72 429.95H610.21M610.21 429.95V448.4M628.7 411.5V429.95M610.21 429.95H628.7M628.7 448.4V466.85M628.7 448.4H647.19M628.7 466.85H647.19M665.68 466.85V485.3M665.68 411.5H684.17M665.68 429.95H684.17M684.17 448.4V466.85M702.66 429.95V448.4M684.17 448.4H702.66M702.66 448.4V466.85M702.66 429.95H721.15M702.66 448.4H721.15M795.11 411.5V429.95M795.11 411.5H813.6M850.58 393.05V411.5M832.09 411.5H850.58M887.56 411.5H906.05M924.54 411.5V429.95M924.54 411.5H943.03M943.03 411.5V429.95M924.54 429.95H943.03M961.52 448.4H980.01M961.52 466.85H980.01M980.01 393.05H998.5M998.5 393.05V411.5" stroke="#ade8af"/>
<path d="M258.9 393.05V411.5" stroke="#e3e3a6"/>
<path d="M258.9 411.5H277.39" stroke="#ffb8a1"/>
<path d="M295.88 374.6V393.05M295.88 393.05H314.37M314.37 393.05V411.5M295.88 411.5H314.37M369.84 466.85V485.3M425.31 466.85V485.3M425.31 466.85H443.8M443.8 466.85V485.3M443.8 393.05H462.29M462.29 393.05V411.5M443.8 411.5H462.29M462.29 411.5V429.95M462.29 466.85V485.3M462.29 411.5H480.78M462.29 466.85H480.78M499.27 429.95V448.4M517.76 466.85V485.3M536.25 356.15V374.6M517.76 374.6H536.25M536.25 374.6V393.05M536.25 374.6H554.74M536.25 393.05H554.74M573.23 448.4V466.85M573.23 466.85H591.72M610.21 356.15V374.6M628.7 356.15V374.6M610.21 374.6H628.7M628.7 374.6V393.05M628.7 429.95V448.4M610.21 448.4H628.7M610.21 466.85H628.7M628.7 466.85V485.3M647.19 356.15V374.6M628.7 374.6H647.19M628.7 393.05H647.19M628.7 411.5H647.19M628.7 429.95H647.19M684.17 356.15V374.6M684.17 393.05V411.5M684.17 429.95V448.4M665.68 448.4H684.17M665.68 466.85H684.17M684.17 374.6H702.66M684.17 393.05H702.66M702.66 393.05V411.5M721.15 393.05V411.5M702.66 411.5H721.15M721.15 374.6H739.64M721.15 393.05H739.64M776.62 466.85V485.3M795.11 374.6V393.05M776.62 429.95H795.11M795.11 374.6H813.6M795.11 393.05H813.6M832.09 448.4V466.85M813.6 466.85H832.09M869.07 429.95V448.4M869.07 429.95H887.56M887.56 374.6H906.05M906.05 411.5V429.95M906.05 374.6H924.54M924.54 374.6V393.05M924.54 393.05H943.03M943.03 393.05V411.5M943.03 429.95V448.4M924.54 448.4H943.03M943.03 448.4V466.85M961.52 393.05V411.5M943.03 411.5H961.52M961.52 411.5V429.95M943.03 429.95H961.52M943.03 448.4H961.52M943.03 466.85H961.52M961.52 374.6H980.01M961.52 393.05H980.01M961.52 411.5H980.01M980.01 374.6H998.5M998.5 411.5H1016.99M998.5 429.95H1016.99M998.5 448.4H1016.99M1016.99 448.4V466.85M1035.48 393.05H1053.97" stroke="#a0e2b0"/>
<path d="M351.35 393.05V411.5M369.84 393.05V411.5M351.35 411.5H369.84M536.25 429.95V448.4M517.76 448.4H536.25M536.25 429.95H554.74M573.23 374.6H591.72M665.68 411.5V429.95M739.64 374.6H758.13" stroke="#baeeae"/>
<path d="M332.86 411.5H351.35M351.35 411.5V429.95M351.35 429.95H369.84M425.31 393.05V411.5M425.31 411.5H443.8M425.31 429.95H443.8M499.27 411.5V429.95M480.78 466.85H499.27M499.27 393.05H517.76M499.27 411.5H517.76" stroke="#d3f4b1"/>
<path d="M351.35 448.4H369.84M499.27 374.6H517.76M980.01 429.95H998.5M980.01 448.4H998.5" stroke="#e0f7ad"/>
<path d="M388.33 448.4V466.85" stroke="#f3f9cb"/>
<path d="M388.33 466.85H406.82M406.82 411.5H425.31M425.31 411.5V429.95" stroke="#ecf9b3"/>
<path d="M425.31 393.05H443.8M462.29 356.15V374.6M480.78 356.15V374.6M462.29 374.6H480.78M499.27 448.4V466.85M517.76 393.05V411.5M517.76 448.4V466.85M591.72 374.6V393.05M684.17 411.5V429.95M739.64 393.05H758.13M980.01 448.4V466.85M980.01 411.5H998.5" stroke="#c7f2ab"/>
<path d="M517.76 411.5H536.25" stroke="#ecf2aa"/>
<path d="M536.25 411.5V429.95M517.76 429.95H536.25" stroke="#dfeeae"/>
<path d="M573.23 393.05H591.72M573.23 411.5H591.72M647.19 411.5H665.68M758.13 374.6V393.05M832.09 393.05H850.58" stroke="#daf3c9"/>
<path d="M943.03 374.6H961.52" stroke="#f1e6a3"/>
</g>
<path d="M74 466.35V485.8M73.5 485.3H92.99M73.5 466.85H92.99M92.49 355.65V375.1M91.99 356.15H111.48M92.49 374.1V393.55M92.49 392.55V412M92.49 411V430.45M92.49 429.45V448.9M92.49 447.9V467.35M91.99 485.3H111.48M110.48 356.15H129.97M110.48 485.3H129.97M128.97 356.15H148.46M128.97 485.3H148.46M147.46 356.15H166.95M166.45 392.55V412M166.45 411V430.45M166.45 429.45V448.9M166.45 447.9V467.35M166.45 466.35V485.8M147.46 485.3H166.95M184.94 355.65V375.1M165.95 356.15H185.44M184.94 374.1V393.55M165.95 393.05H185.44M165.95 485.3H185.44M184.44 356.15H203.93M184.44 485.3H203.93M202.93 356.15H222.42M202.93 485.3H222.42M221.42 356.15H240.91M240.41 392.55V412M240.41 411V430.45M240.41 429.45V448.9M240.41 447.9V467.35M240.41 466.35V485.8M221.42 485.3H240.91M258.9 355.65V375.1M239.91 356.15H259.4M258.9 374.1V393.55M239.91 393.05H259.4M239.91 485.3H259.4M258.4 356.15H277.89M258.4 485.3H277.89M276.89 356.15H296.38M276.89 485.3H296.38M295.38 356.15H314.87M314.37 447.9V467.35M314.37 466.35V485.8M295.38 485.3H314.87M332.86 355.65V375.1M313.87 356.15H333.36M332.86 374.1V393.55M332.86 392.55V412M332.86 411V430.45M332.86 429.45V448.9M313.87 448.4H333.36M313.87 485.3H333.36M332.36 356.15H351.85M332.36 485.3H351.85M350.85 356.15H370.34M350.85 485.3H370.34M369.34 356.15H388.83M369.34 485.3H388.83M406.82 355.65V375.1M387.83 356.15H407.32M406.82 374.1V393.55M406.82 392.55V412M406.82 411V430.45M406.82 429.45V448.9M406.82 447.9V467.35M406.82 466.35V485.8M387.83 485.3H407.32M406.32 356.15H425.81M406.32 485.3H425.81M424.81 356.15H444.3M424.81 485.3H444.3M443.3 356.15H462.79M443.3 485.3H462.79M461.79 356.15H481.28M480.78 411V430.45M480.78 429.45V448.9M480.78 447.9V467.35M480.78 466.35V485.8M461.79 485.3H481.28M499.27 355.65V375.1M480.28 356.15H499.77M499.27 374.1V393.55M499.27 392.55V412M480.28 411.5H499.77M480.28 485.3H499.77M498.77 356.15H518.26M498.77 485.3H518.26M517.26 356.15H536.75M517.26 485.3H536.75M535.75 356.15H555.24M554.74 447.9V467.35M554.74 466.35V485.8M535.75 485.3H555.24M573.23 355.65V375.1M554.24 356.15H573.73M573.23 374.1V393.55M573.23 392.55V412M573.23 411V430.45M573.23 429.45V448.9M554.24 448.4H573.73M554.24 485.3H573.73M572.73 356.15H592.22M572.73 485.3H592.22M591.22 356.15H610.71M591.22 485.3H610.71M609.71 356.15H629.2M609.71 485.3H629.2M628.2 356.15H647.69M647.19 374.1V393.55M647.19 392.55V412M647.19 411V430.45M647.19 429.45V448.9M647.19 447.9V467.35M647.19 466.35V485.8M628.2 485.3H647.69M665.68 355.65V375.1M646.69 374.6H666.18M646.69 356.15H666.18M646.69 485.3H666.18M665.18 356.15H684.67M665.18 485.3H684.67M683.67 356.15H703.16M683.67 485.3H703.16M702.16 356.15H721.65M721.15 429.45V448.9M721.15 447.9V467.35M721.15 466.35V485.8M702.16 485.3H721.65M739.64 355.65V375.1M720.65 356.15H740.14M739.64 374.1V393.55M739.64 392.55V412M739.64 411V430.45M720.65 429.95H740.14M720.65 485.3H740.14M739.14 356.15H758.63M739.14 485.3H758.63M757.63 356.15H777.12M757.63 485.3H777.12M776.12 356.15H795.61M795.11 466.35V485.8M776.12 485.3H795.61M813.6 355.65V375.1M794.61 356.15H814.1M813.6 374.1V393.55M813.6 392.55V412M813.6 411V430.45M813.6 429.45V448.9M813.6 447.9V467.35M794.61 466.85H814.1M794.61 485.3H814.1M813.1 356.15H832.59M813.1 485.3H832.59M831.59 356.15H851.08M831.59 485.3H851.08M850.08 356.15H869.57M850.08 485.3H869.57M868.57 356.15H888.06M887.56 392.55V412M887.56 411V430.45M887.56 429.45V448.9M887.56 447.9V467.35M887.56 466.35V485.8M868.57 485.3H888.06M906.05 355.65V375.1M887.06 356.15H906.55M906.05 374.1V393.55M887.06 393.05H906.55M887.06 485.3H906.55M905.55 356.15H925.04M905.55 485.3H925.04M924.04 356.15H943.53M924.04 485.3H943.53M942.53 356.15H962.02M961.52 429.45V448.9M961.52 447.9V467.35M961.52 466.35V485.8M942.53 485.3H962.02M980.01 355.65V375.1M961.02 356.15H980.51M980.01 374.1V393.55M980.01 392.55V412M980.01 411V430.45M961.02 429.95H980.51M961.02 485.3H980.51M979.51 356.15H999M979.51 485.3H999M998 356.15H1017.49M998 485.3H1017.49M1016.49 356.15H1035.98M1016.49 485.3H1035.98M1053.97 355.65V375.1M1034.98 356.15H1054.47M1053.97 374.1V393.55M1053.97 392.55V412M1053.97 411V430.45M1053.97 429.45V448.9M1053.97 447.9V467.35M1053.97 466.35V485.8M1034.98 485.3H1054.47" fill="none" stroke="#000" stroke-width="1.3" stroke-opacity="0.9"/>
<text class="m" x="119.8" y="351.65">Jan</text>
<text class="m" x="198" y="351.65">Feb</text>
<text class="m" x="277.3" y="351.65">Mar</text>
<text class="m" x="357" y="351.65">Apr</text>
<text class="m" x="434" y="351.65">May</text>
<text class="m" x="515" y="351.65">Jun</text>
<text class="m" x="596.2" y="351.65">Jul</text>
<text class="m" x="672" y="351.65">Aug</text>
<text class="m" x="750.8" y="351.65">Sep</text>
<text class="m" x="831.8" y="351.65">Oct</text>
<text class="m" x="909.3" y="351.65">Nov</text>
<text class="m" x="988.2" y="351.65">Dec</text>
<text class="d" x="68.5" y="370.48">Su</text>
<text class="d" x="68.5" y="388.93">Mo</text>
<text class="d" x="68.5" y="407.38">Tu</text>
<text class="d" x="68.5" y="425.82">We</text>
<text class="d" x="68.5" y="444.27">Th</text>
<text class="d" x="68.5" y="462.73">Fr</text>
<text class="d" x="68.5" y="481.18">Sa</text>
<text class="y" transform="translate(33 420.72) rotate(-90)" x="0" y="0">2022</text>
</g>
</svg></body></html>
